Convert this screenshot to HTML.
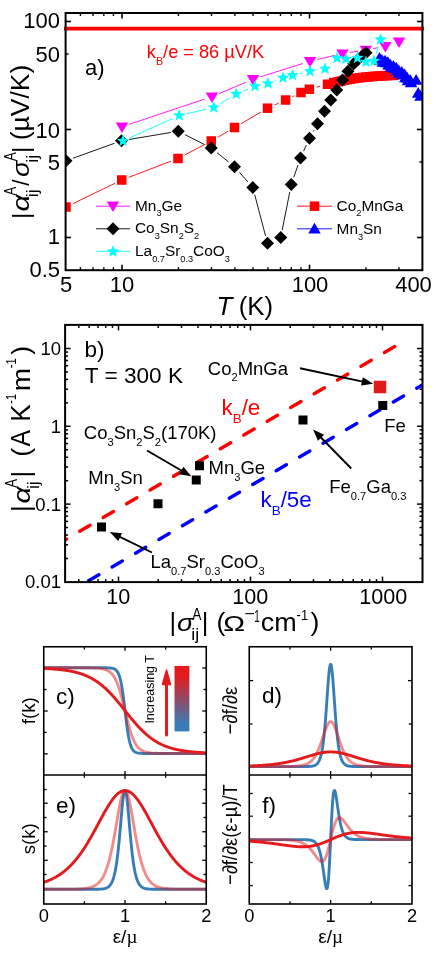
<!DOCTYPE html><html><head><meta charset="utf-8"><style>html,body{margin:0;padding:0;background:#fff}svg{display:block;will-change:transform}text{font-family:"Liberation Sans",sans-serif}</style></head><body>
<svg width="436" height="953" viewBox="0 0 436 953">
<rect width="436" height="953" fill="#fff"/>
<clipPath id="ca"><rect x="65.6" y="13.0" width="356.79999999999995" height="257.2"/></clipPath>
<g clip-path="url(#ca)">
<line x1="72.75" y1="203.73" x2="115.00" y2="183.27" stroke="#ff0000" stroke-width="0.9" />
<line x1="128.76" y1="177.32" x2="170.99" y2="161.18" stroke="#ff0000" stroke-width="0.9" />
<line x1="184.64" y1="155.01" x2="204.61" y2="144.49" stroke="#ff0000" stroke-width="0.9" />
<line x1="217.74" y1="137.23" x2="228.01" y2="131.27" stroke="#ff0000" stroke-width="0.9" />
<line x1="240.97" y1="123.71" x2="261.03" y2="111.99" stroke="#ff0000" stroke-width="0.9" />
<line x1="274.33" y1="105.11" x2="278.77" y2="103.09" stroke="#ff0000" stroke-width="0.9" />
<line x1="292.34" y1="96.72" x2="294.26" y2="95.78" stroke="#ff0000" stroke-width="0.9" />
<line x1="316.63" y1="87.25" x2="320.27" y2="86.25" stroke="#ff0000" stroke-width="0.9" />
<rect x="61.25" y="202.25" width="9.5" height="9.5" fill="#ff0000"/>
<rect x="117.00" y="175.25" width="9.5" height="9.5" fill="#ff0000"/>
<rect x="173.25" y="153.75" width="9.5" height="9.5" fill="#ff0000"/>
<rect x="206.50" y="136.25" width="9.5" height="9.5" fill="#ff0000"/>
<rect x="229.75" y="122.75" width="9.5" height="9.5" fill="#ff0000"/>
<rect x="262.75" y="103.45" width="9.5" height="9.5" fill="#ff0000"/>
<rect x="280.85" y="95.25" width="9.5" height="9.5" fill="#ff0000"/>
<rect x="296.25" y="87.75" width="9.5" height="9.5" fill="#ff0000"/>
<rect x="304.65" y="84.50" width="9.5" height="9.5" fill="#ff0000"/>
<rect x="322.75" y="79.50" width="9.5" height="9.5" fill="#ff0000"/>
<rect x="329.05" y="77.75" width="9.5" height="9.5" fill="#ff0000"/>
<rect x="333.25" y="77.05" width="9.5" height="9.5" fill="#ff0000"/>
<rect x="336.35" y="76.26" width="9.5" height="9.5" fill="#ff0000"/>
<rect x="339.45" y="75.56" width="9.5" height="9.5" fill="#ff0000"/>
<rect x="342.55" y="74.93" width="9.5" height="9.5" fill="#ff0000"/>
<rect x="345.65" y="74.37" width="9.5" height="9.5" fill="#ff0000"/>
<rect x="348.75" y="73.86" width="9.5" height="9.5" fill="#ff0000"/>
<rect x="351.85" y="73.41" width="9.5" height="9.5" fill="#ff0000"/>
<rect x="354.95" y="73.01" width="9.5" height="9.5" fill="#ff0000"/>
<rect x="358.05" y="72.64" width="9.5" height="9.5" fill="#ff0000"/>
<rect x="361.15" y="72.32" width="9.5" height="9.5" fill="#ff0000"/>
<rect x="364.25" y="72.03" width="9.5" height="9.5" fill="#ff0000"/>
<rect x="367.35" y="71.77" width="9.5" height="9.5" fill="#ff0000"/>
<rect x="370.45" y="71.54" width="9.5" height="9.5" fill="#ff0000"/>
<rect x="373.55" y="71.33" width="9.5" height="9.5" fill="#ff0000"/>
<rect x="376.65" y="71.14" width="9.5" height="9.5" fill="#ff0000"/>
<rect x="379.75" y="70.98" width="9.5" height="9.5" fill="#ff0000"/>
<rect x="382.85" y="70.83" width="9.5" height="9.5" fill="#ff0000"/>
<rect x="385.95" y="70.69" width="9.5" height="9.5" fill="#ff0000"/>
<rect x="389.05" y="70.57" width="9.5" height="9.5" fill="#ff0000"/>
<path d="M373.20,62.72L385.70,62.72L379.45,51.92Z" fill="#0000ff"/>
<path d="M373.80,65.01L386.30,65.01L380.05,54.21Z" fill="#0000ff"/>
<path d="M375.70,64.70L388.20,64.70L381.95,53.90Z" fill="#0000ff"/>
<path d="M376.45,66.69L388.95,66.69L382.70,55.89Z" fill="#0000ff"/>
<path d="M378.75,65.58L391.25,65.58L385.00,54.78Z" fill="#0000ff"/>
<path d="M379.65,67.27L392.15,67.27L385.90,56.47Z" fill="#0000ff"/>
<path d="M381.60,67.02L394.10,67.02L387.85,56.22Z" fill="#0000ff"/>
<path d="M382.20,69.54L394.70,69.54L388.45,58.74Z" fill="#0000ff"/>
<path d="M384.10,69.47L396.60,69.47L390.35,58.67Z" fill="#0000ff"/>
<path d="M384.85,71.70L397.35,71.70L391.10,60.90Z" fill="#0000ff"/>
<path d="M387.15,70.83L399.65,70.83L393.40,60.03Z" fill="#0000ff"/>
<path d="M388.05,72.75L400.55,72.75L394.30,61.95Z" fill="#0000ff"/>
<path d="M390.00,72.66L402.50,72.66L396.25,61.86Z" fill="#0000ff"/>
<path d="M390.60,75.28L403.10,75.28L396.85,64.48Z" fill="#0000ff"/>
<path d="M392.50,75.31L405.00,75.31L398.75,64.51Z" fill="#0000ff"/>
<path d="M393.25,77.64L405.75,77.64L399.50,66.84Z" fill="#0000ff"/>
<path d="M395.55,76.87L408.05,76.87L401.80,66.07Z" fill="#0000ff"/>
<path d="M396.45,79.15L408.95,79.15L402.70,68.35Z" fill="#0000ff"/>
<path d="M398.40,79.37L410.90,79.37L404.65,68.57Z" fill="#0000ff"/>
<path d="M399.00,82.29L411.50,82.29L405.25,71.49Z" fill="#0000ff"/>
<path d="M400.90,82.61L413.40,82.61L407.15,71.81Z" fill="#0000ff"/>
<path d="M401.65,85.23L414.15,85.23L407.90,74.43Z" fill="#0000ff"/>
<path d="M403.95,84.82L416.45,84.82L410.20,74.02Z" fill="#0000ff"/>
<path d="M404.85,87.22L417.35,87.22L411.10,76.42Z" fill="#0000ff"/>
<path d="M409.85,84.72L422.35,84.72L416.10,73.92Z" fill="#0000ff"/>
<path d="M411.95,97.82L424.45,97.82L418.20,87.02Z" fill="#0000ff"/>
<path d="M414.25,100.72L426.75,100.72L420.50,89.92Z" fill="#0000ff"/>
<line x1="129.11" y1="124.33" x2="204.79" y2="99.07" stroke="#ff00ff" stroke-width="0.9" />
<line x1="218.80" y1="93.76" x2="246.10" y2="82.14" stroke="#ff00ff" stroke-width="0.9" />
<line x1="260.15" y1="76.94" x2="302.85" y2="63.46" stroke="#ff00ff" stroke-width="0.9" />
<line x1="317.30" y1="59.49" x2="335.20" y2="55.31" stroke="#ff00ff" stroke-width="0.9" />
<line x1="349.91" y1="52.45" x2="358.39" y2="51.15" stroke="#ff00ff" stroke-width="0.9" />
<line x1="373.17" y1="48.60" x2="377.93" y2="47.70" stroke="#ff00ff" stroke-width="0.9" />
<path d="M115.75,122.50L128.25,122.50L122.00,133.00Z" fill="#ff00ff"/>
<path d="M205.65,92.50L218.15,92.50L211.90,103.00Z" fill="#ff00ff"/>
<path d="M246.75,75.00L259.25,75.00L253.00,85.50Z" fill="#ff00ff"/>
<path d="M303.75,57.00L316.25,57.00L310.00,67.50Z" fill="#ff00ff"/>
<path d="M336.25,49.40L348.75,49.40L342.50,59.90Z" fill="#ff00ff"/>
<path d="M359.55,45.80L372.05,45.80L365.80,56.30Z" fill="#ff00ff"/>
<path d="M379.05,42.10L391.55,42.10L385.30,52.60Z" fill="#ff00ff"/>
<path d="M392.75,37.50L405.25,37.50L399.00,48.00Z" fill="#ff00ff"/>
<line x1="73.06" y1="158.21" x2="114.44" y2="143.29" stroke="#000" stroke-width="0.9" />
<line x1="128.90" y1="139.51" x2="170.85" y2="132.49" stroke="#000" stroke-width="0.9" />
<line x1="184.94" y1="134.64" x2="204.56" y2="144.61" stroke="#000" stroke-width="0.9" />
<line x1="217.09" y1="152.71" x2="228.66" y2="162.04" stroke="#000" stroke-width="0.9" />
<line x1="239.46" y1="172.37" x2="247.84" y2="181.88" stroke="#000" stroke-width="0.9" />
<line x1="254.71" y1="194.75" x2="265.59" y2="236.00" stroke="#000" stroke-width="0.9" />
<line x1="282.21" y1="230.14" x2="289.79" y2="191.86" stroke="#000" stroke-width="0.9" />
<line x1="293.72" y1="177.42" x2="298.03" y2="165.08" stroke="#000" stroke-width="0.9" />
<line x1="303.60" y1="151.17" x2="306.40" y2="145.03" stroke="#000" stroke-width="0.9" />
<line x1="313.13" y1="131.64" x2="313.87" y2="130.31" stroke="#000" stroke-width="0.9" />
<path d="M66.00,154.25L72.50,160.75L66.00,167.25L59.50,160.75Z" fill="#000"/>
<path d="M121.50,134.25L128.00,140.75L121.50,147.25L115.00,140.75Z" fill="#000"/>
<path d="M178.25,124.75L184.75,131.25L178.25,137.75L171.75,131.25Z" fill="#000"/>
<path d="M211.25,141.50L217.75,148.00L211.25,154.50L204.75,148.00Z" fill="#000"/>
<path d="M234.50,160.25L241.00,166.75L234.50,173.25L228.00,166.75Z" fill="#000"/>
<path d="M252.80,181.00L259.30,187.50L252.80,194.00L246.30,187.50Z" fill="#000"/>
<path d="M267.50,236.75L274.00,243.25L267.50,249.75L261.00,243.25Z" fill="#000"/>
<path d="M280.75,231.00L287.25,237.50L280.75,244.00L274.25,237.50Z" fill="#000"/>
<path d="M291.25,178.00L297.75,184.50L291.25,191.00L284.75,184.50Z" fill="#000"/>
<path d="M300.50,151.50L307.00,158.00L300.50,164.50L294.00,158.00Z" fill="#000"/>
<path d="M309.50,131.70L316.00,138.20L309.50,144.70L303.00,138.20Z" fill="#000"/>
<path d="M317.50,117.25L324.00,123.75L317.50,130.25L311.00,123.75Z" fill="#000"/>
<path d="M324.50,104.75L331.00,111.25L324.50,117.75L318.00,111.25Z" fill="#000"/>
<path d="M330.75,93.50L337.25,100.00L330.75,106.50L324.25,100.00Z" fill="#000"/>
<path d="M336.75,83.50L343.25,90.00L336.75,96.50L330.25,90.00Z" fill="#000"/>
<path d="M342.50,73.50L349.00,80.00L342.50,86.50L336.00,80.00Z" fill="#000"/>
<path d="M348.00,64.75L354.50,71.25L348.00,77.75L341.50,71.25Z" fill="#000"/>
<path d="M353.75,57.25L360.25,63.75L353.75,70.25L347.25,63.75Z" fill="#000"/>
<path d="M358.00,53.10L364.50,59.60L358.00,66.10L351.50,59.60Z" fill="#000"/>
<path d="M362.00,49.50L368.50,56.00L362.00,62.50L355.50,56.00Z" fill="#000"/>
<path d="M366.00,46.20L372.50,52.70L366.00,59.20L359.50,52.70Z" fill="#000"/>
<line x1="129.83" y1="137.90" x2="172.42" y2="118.60" stroke="#00ffff" stroke-width="0.9" />
<line x1="186.56" y1="113.81" x2="206.44" y2="109.19" stroke="#00ffff" stroke-width="0.9" />
<line x1="220.18" y1="103.64" x2="229.82" y2="97.86" stroke="#00ffff" stroke-width="0.9" />
<line x1="243.18" y1="91.14" x2="248.07" y2="89.11" stroke="#00ffff" stroke-width="0.9" />
<line x1="275.01" y1="80.84" x2="275.99" y2="80.46" stroke="#00ffff" stroke-width="0.9" />
<line x1="299.82" y1="73.55" x2="302.68" y2="72.90" stroke="#00ffff" stroke-width="0.9" />
<line x1="330.59" y1="63.75" x2="331.41" y2="63.00" stroke="#00ffff" stroke-width="0.9" />
<line x1="376.18" y1="53.82" x2="378.32" y2="46.78" stroke="#00ffff" stroke-width="0.9" />
<polygon points="123.00,134.60 124.66,138.72 129.09,139.02 125.68,141.87 126.76,146.18 123.00,143.82 119.24,146.18 120.32,141.87 116.91,139.02 121.34,138.72" fill="#00ffff"/>
<polygon points="179.25,109.10 180.91,113.22 185.34,113.52 181.93,116.37 183.01,120.68 179.25,118.32 175.49,120.68 176.57,116.37 173.16,113.52 177.59,113.22" fill="#00ffff"/>
<polygon points="213.75,101.10 215.41,105.22 219.84,105.52 216.43,108.37 217.51,112.68 213.75,110.32 209.99,112.68 211.07,108.37 207.66,105.52 212.09,105.22" fill="#00ffff"/>
<polygon points="236.25,87.60 237.91,91.72 242.34,92.02 238.93,94.87 240.01,99.18 236.25,96.82 232.49,99.18 233.57,94.87 230.16,92.02 234.59,91.72" fill="#00ffff"/>
<polygon points="255.00,79.85 256.66,83.97 261.09,84.27 257.68,87.12 258.76,91.43 255.00,89.07 251.24,91.43 252.32,87.12 248.91,84.27 253.34,83.97" fill="#00ffff"/>
<polygon points="268.00,77.10 269.66,81.22 274.09,81.52 270.68,84.37 271.76,88.68 268.00,86.32 264.24,88.68 265.32,84.37 261.91,81.52 266.34,81.22" fill="#00ffff"/>
<polygon points="283.00,71.40 284.66,75.52 289.09,75.82 285.68,78.67 286.76,82.98 283.00,80.62 279.24,82.98 280.32,78.67 276.91,75.82 281.34,75.52" fill="#00ffff"/>
<polygon points="292.50,68.80 294.16,72.92 298.59,73.22 295.18,76.07 296.26,80.38 292.50,78.02 288.74,80.38 289.82,76.07 286.41,73.22 290.84,72.92" fill="#00ffff"/>
<polygon points="310.00,64.85 311.66,68.97 316.09,69.27 312.68,72.12 313.76,76.43 310.00,74.07 306.24,76.43 307.32,72.12 303.91,69.27 308.34,68.97" fill="#00ffff"/>
<polygon points="325.00,62.35 326.66,66.47 331.09,66.77 327.68,69.62 328.76,73.93 325.00,71.57 321.24,73.93 322.32,69.62 318.91,66.77 323.34,66.47" fill="#00ffff"/>
<polygon points="337.00,51.60 338.66,55.72 343.09,56.02 339.68,58.87 340.76,63.18 337.00,60.82 333.24,63.18 334.32,58.87 330.91,56.02 335.34,55.72" fill="#00ffff"/>
<polygon points="346.00,52.60 347.66,56.72 352.09,57.02 348.68,59.87 349.76,64.18 346.00,61.82 342.24,64.18 343.32,59.87 339.91,57.02 344.34,56.72" fill="#00ffff"/>
<polygon points="357.50,51.60 359.16,55.72 363.59,56.02 360.18,58.87 361.26,63.18 357.50,60.82 353.74,63.18 354.82,58.87 351.41,56.02 355.84,55.72" fill="#00ffff"/>
<polygon points="366.00,55.60 367.66,59.72 372.09,60.02 368.68,62.87 369.76,67.18 366.00,64.82 362.24,67.18 363.32,62.87 359.91,60.02 364.34,59.72" fill="#00ffff"/>
<polygon points="374.00,54.60 375.66,58.72 380.09,59.02 376.68,61.87 377.76,66.18 374.00,63.82 370.24,66.18 371.32,61.87 367.91,59.02 372.34,58.72" fill="#00ffff"/>
<polygon points="380.50,33.20 382.16,37.32 386.59,37.62 383.18,40.47 384.26,44.78 380.50,42.42 376.74,44.78 377.82,40.47 374.41,37.62 378.84,37.32" fill="#00ffff"/>
</g>
<line x1="64.00" y1="28.60" x2="424.00" y2="28.60" stroke="#ff0000" stroke-width="3.6" />
<text x="146.80" y="58.30" font-size="18.2" fill="#ff0000" text-anchor="start" >k<tspan font-size="10.8" dy="7">B</tspan><tspan dy="-7">/e = 86 µV/K</tspan></text>
<rect x="65.6" y="13.0" width="356.79999999999995" height="257.2" fill="none" stroke="#000" stroke-width="2"/>
<line x1="122.00" y1="270.20" x2="122.00" y2="264.70" stroke="#000" stroke-width="1.6" />
<line x1="122.00" y1="13.00" x2="122.00" y2="18.50" stroke="#000" stroke-width="1.6" />
<line x1="309.50" y1="270.20" x2="309.50" y2="264.70" stroke="#000" stroke-width="1.6" />
<line x1="309.50" y1="13.00" x2="309.50" y2="18.50" stroke="#000" stroke-width="1.6" />
<line x1="80.40" y1="270.20" x2="80.40" y2="267.20" stroke="#000" stroke-width="1.4" />
<line x1="80.40" y1="13.00" x2="80.40" y2="16.00" stroke="#000" stroke-width="1.4" />
<line x1="92.96" y1="270.20" x2="92.96" y2="267.20" stroke="#000" stroke-width="1.4" />
<line x1="92.96" y1="13.00" x2="92.96" y2="16.00" stroke="#000" stroke-width="1.4" />
<line x1="103.83" y1="270.20" x2="103.83" y2="267.20" stroke="#000" stroke-width="1.4" />
<line x1="103.83" y1="13.00" x2="103.83" y2="16.00" stroke="#000" stroke-width="1.4" />
<line x1="113.42" y1="270.20" x2="113.42" y2="267.20" stroke="#000" stroke-width="1.4" />
<line x1="113.42" y1="13.00" x2="113.42" y2="16.00" stroke="#000" stroke-width="1.4" />
<line x1="178.44" y1="270.20" x2="178.44" y2="267.20" stroke="#000" stroke-width="1.4" />
<line x1="178.44" y1="13.00" x2="178.44" y2="16.00" stroke="#000" stroke-width="1.4" />
<line x1="211.46" y1="270.20" x2="211.46" y2="267.20" stroke="#000" stroke-width="1.4" />
<line x1="211.46" y1="13.00" x2="211.46" y2="16.00" stroke="#000" stroke-width="1.4" />
<line x1="234.89" y1="270.20" x2="234.89" y2="267.20" stroke="#000" stroke-width="1.4" />
<line x1="234.89" y1="13.00" x2="234.89" y2="16.00" stroke="#000" stroke-width="1.4" />
<line x1="253.06" y1="270.20" x2="253.06" y2="267.20" stroke="#000" stroke-width="1.4" />
<line x1="253.06" y1="13.00" x2="253.06" y2="16.00" stroke="#000" stroke-width="1.4" />
<line x1="267.90" y1="270.20" x2="267.90" y2="267.20" stroke="#000" stroke-width="1.4" />
<line x1="267.90" y1="13.00" x2="267.90" y2="16.00" stroke="#000" stroke-width="1.4" />
<line x1="280.46" y1="270.20" x2="280.46" y2="267.20" stroke="#000" stroke-width="1.4" />
<line x1="280.46" y1="13.00" x2="280.46" y2="16.00" stroke="#000" stroke-width="1.4" />
<line x1="291.33" y1="270.20" x2="291.33" y2="267.20" stroke="#000" stroke-width="1.4" />
<line x1="291.33" y1="13.00" x2="291.33" y2="16.00" stroke="#000" stroke-width="1.4" />
<line x1="300.92" y1="270.20" x2="300.92" y2="267.20" stroke="#000" stroke-width="1.4" />
<line x1="300.92" y1="13.00" x2="300.92" y2="16.00" stroke="#000" stroke-width="1.4" />
<line x1="365.94" y1="270.20" x2="365.94" y2="267.20" stroke="#000" stroke-width="1.4" />
<line x1="365.94" y1="13.00" x2="365.94" y2="16.00" stroke="#000" stroke-width="1.4" />
<line x1="398.96" y1="270.20" x2="398.96" y2="267.20" stroke="#000" stroke-width="1.4" />
<line x1="398.96" y1="13.00" x2="398.96" y2="16.00" stroke="#000" stroke-width="1.4" />
<line x1="65.60" y1="237.50" x2="71.10" y2="237.50" stroke="#000" stroke-width="1.6" />
<line x1="422.40" y1="237.50" x2="416.90" y2="237.50" stroke="#000" stroke-width="1.6" />
<line x1="65.60" y1="129.50" x2="71.10" y2="129.50" stroke="#000" stroke-width="1.6" />
<line x1="422.40" y1="129.50" x2="416.90" y2="129.50" stroke="#000" stroke-width="1.6" />
<line x1="65.60" y1="21.50" x2="71.10" y2="21.50" stroke="#000" stroke-width="1.6" />
<line x1="422.40" y1="21.50" x2="416.90" y2="21.50" stroke="#000" stroke-width="1.6" />
<line x1="65.60" y1="162.01" x2="68.60" y2="162.01" stroke="#000" stroke-width="1.4" />
<line x1="422.40" y1="162.01" x2="419.40" y2="162.01" stroke="#000" stroke-width="1.4" />
<line x1="65.60" y1="54.01" x2="68.60" y2="54.01" stroke="#000" stroke-width="1.4" />
<line x1="422.40" y1="54.01" x2="419.40" y2="54.01" stroke="#000" stroke-width="1.4" />
<text x="60.00" y="28.19" font-size="22" fill="#000" text-anchor="end" >100</text>
<text x="60.00" y="61.79" font-size="22" fill="#000" text-anchor="end" >50</text>
<text x="60.00" y="137.79" font-size="22" fill="#000" text-anchor="end" >10</text>
<text x="60.00" y="170.39" font-size="22" fill="#000" text-anchor="end" >5</text>
<text x="60.00" y="244.39" font-size="22" fill="#000" text-anchor="end" >1</text>
<text x="60.00" y="277.19" font-size="22" fill="#000" text-anchor="end" >0.5</text>
<text x="66.00" y="292.30" font-size="22" fill="#000" text-anchor="middle" >5</text>
<text x="122.00" y="292.30" font-size="22" fill="#000" text-anchor="middle" >10</text>
<text x="310.00" y="292.30" font-size="22" fill="#000" text-anchor="middle" >100</text>
<text x="413.50" y="292.30" font-size="22" fill="#000" text-anchor="middle" >400</text>
<text x="85.10" y="74.60" font-size="22" fill="#000" text-anchor="start" >a)</text>
<text transform="translate(216.46,315.40) scale(0.994,1)" font-size="26.2" fill="#000" font-style="italic">T</text>
<text transform="translate(238.70,315.40) scale(0.985,1)" font-size="26.2" fill="#000">(K)</text>
<line x1="96.00" y1="206.20" x2="130.00" y2="206.20" stroke="#ff00ff" stroke-width="0.9" />
<path d="M106.75,201.40L119.25,201.40L113.00,211.90Z" fill="#ff00ff"/>
<line x1="96.00" y1="228.80" x2="130.00" y2="228.80" stroke="#000" stroke-width="0.9" />
<path d="M113.00,222.30L119.50,228.80L113.00,235.30L106.50,228.80Z" fill="#000"/>
<line x1="96.00" y1="251.30" x2="130.00" y2="251.30" stroke="#00ffff" stroke-width="0.9" />
<polygon points="113.00,245.20 114.66,249.32 119.09,249.62 115.68,252.47 116.76,256.78 113.00,254.42 109.24,256.78 110.32,252.47 106.91,249.62 111.34,249.32" fill="#00ffff"/>
<text x="135.00" y="210.60" font-size="15.4" fill="#000" text-anchor="start" ><tspan dy="0">Mn</tspan><tspan font-size="9.2" dy="5.5">3</tspan><tspan dy="-5.5">Ge</tspan></text>
<text x="135.00" y="233.40" font-size="15.4" fill="#000" text-anchor="start" ><tspan dy="0">Co</tspan><tspan font-size="9.2" dy="5.5">3</tspan><tspan dy="-5.5">Sn</tspan><tspan font-size="9.2" dy="5.5">2</tspan><tspan dy="-5.5">S</tspan><tspan font-size="9.2" dy="5.5">2</tspan></text>
<text x="135.00" y="256.00" font-size="15.4" fill="#000" text-anchor="start" ><tspan dy="0">La</tspan><tspan font-size="9.2" dy="5.5">0.7</tspan><tspan dy="-5.5">Sr</tspan><tspan font-size="9.2" dy="5.5">0.3</tspan><tspan dy="-5.5">CoO</tspan><tspan font-size="9.2" dy="5.5">3</tspan></text>
<line x1="297.00" y1="206.20" x2="332.00" y2="206.20" stroke="#ff0000" stroke-width="0.9" />
<rect x="309.75" y="201.45" width="9.5" height="9.5" fill="#ff0000"/>
<line x1="297.00" y1="228.80" x2="332.00" y2="228.80" stroke="#0000ff" stroke-width="0.9" />
<path d="M308.25,233.62L320.75,233.62L314.50,222.82Z" fill="#0000ff"/>
<text x="336.60" y="210.80" font-size="15.4" fill="#000" text-anchor="start" ><tspan dy="0">Co</tspan><tspan font-size="9.2" dy="5.5">2</tspan><tspan dy="-5.5">MnGa</tspan></text>
<text x="336.60" y="234.00" font-size="15.4" fill="#000" text-anchor="start" ><tspan dy="0">Mn</tspan><tspan font-size="9.2" dy="5.5">3</tspan><tspan dy="-5.5">Sn</tspan></text>
<g transform="translate(28.7,219.1) rotate(-90)">
<text transform="translate(-0.01,0.00) scale(1.000,1)" font-size="24.5" fill="#000">|</text>
<text transform="translate(7.68,0.00) scale(1.218,1)" font-size="24.5" fill="#000" font-style="italic">α</text>
<text transform="translate(23.57,-13.10) scale(0.819,1)" font-size="16.2" fill="#000">A</text>
<text transform="translate(21.87,9.40) scale(1.149,1)" font-size="16" fill="#000">ij</text>
<text transform="translate(33.40,0.00) scale(0.945,1)" font-size="24" fill="#000">/</text>
<text transform="translate(42.21,0.00) scale(1.093,1)" font-size="24.5" fill="#000" font-style="italic">σ</text>
<text transform="translate(58.07,-13.10) scale(0.819,1)" font-size="16.2" fill="#000">A</text>
<text transform="translate(56.27,9.40) scale(1.149,1)" font-size="16" fill="#000">ij</text>
<text transform="translate(66.09,0.00) scale(1.000,1)" font-size="24.5" fill="#000">|</text>
<text transform="translate(78.86,0.00) scale(1.007,1)" font-size="26.3" fill="#000">(µV/K)</text>
</g>
<clipPath id="cb"><rect x="65.1" y="324.9" width="357.4" height="257.20000000000005"/></clipPath>
<g clip-path="url(#cb)">
<line x1="56.30" y1="545.09" x2="66.60" y2="539.05" stroke="#ff0000" stroke-width="3.4" stroke-linecap="round"/>
<line x1="79.74" y1="531.34" x2="90.04" y2="525.30" stroke="#ff0000" stroke-width="3.4" stroke-linecap="round"/>
<line x1="103.18" y1="517.59" x2="113.48" y2="511.54" stroke="#ff0000" stroke-width="3.4" stroke-linecap="round"/>
<line x1="126.62" y1="503.84" x2="136.92" y2="497.79" stroke="#ff0000" stroke-width="3.4" stroke-linecap="round"/>
<line x1="150.06" y1="490.08" x2="160.36" y2="484.04" stroke="#ff0000" stroke-width="3.4" stroke-linecap="round"/>
<line x1="173.50" y1="476.33" x2="183.80" y2="470.29" stroke="#ff0000" stroke-width="3.4" stroke-linecap="round"/>
<line x1="196.94" y1="462.58" x2="207.24" y2="456.54" stroke="#ff0000" stroke-width="3.4" stroke-linecap="round"/>
<line x1="220.38" y1="448.83" x2="230.68" y2="442.78" stroke="#ff0000" stroke-width="3.4" stroke-linecap="round"/>
<line x1="243.82" y1="435.07" x2="254.12" y2="429.03" stroke="#ff0000" stroke-width="3.4" stroke-linecap="round"/>
<line x1="267.26" y1="421.32" x2="277.56" y2="415.28" stroke="#ff0000" stroke-width="3.4" stroke-linecap="round"/>
<line x1="290.70" y1="407.57" x2="301.00" y2="401.53" stroke="#ff0000" stroke-width="3.4" stroke-linecap="round"/>
<line x1="314.14" y1="393.82" x2="324.44" y2="387.77" stroke="#ff0000" stroke-width="3.4" stroke-linecap="round"/>
<line x1="337.58" y1="380.06" x2="347.88" y2="374.02" stroke="#ff0000" stroke-width="3.4" stroke-linecap="round"/>
<line x1="361.02" y1="366.31" x2="371.32" y2="360.27" stroke="#ff0000" stroke-width="3.4" stroke-linecap="round"/>
<line x1="384.46" y1="352.56" x2="394.76" y2="346.52" stroke="#ff0000" stroke-width="3.4" stroke-linecap="round"/>
<line x1="65.16" y1="594.49" x2="75.46" y2="588.45" stroke="#0000ff" stroke-width="3.4" stroke-linecap="round"/>
<line x1="88.60" y1="580.74" x2="98.90" y2="574.70" stroke="#0000ff" stroke-width="3.4" stroke-linecap="round"/>
<line x1="112.04" y1="566.99" x2="122.34" y2="560.95" stroke="#0000ff" stroke-width="3.4" stroke-linecap="round"/>
<line x1="135.48" y1="553.24" x2="145.78" y2="547.19" stroke="#0000ff" stroke-width="3.4" stroke-linecap="round"/>
<line x1="158.92" y1="539.48" x2="169.22" y2="533.44" stroke="#0000ff" stroke-width="3.4" stroke-linecap="round"/>
<line x1="182.36" y1="525.73" x2="192.66" y2="519.69" stroke="#0000ff" stroke-width="3.4" stroke-linecap="round"/>
<line x1="205.80" y1="511.98" x2="216.10" y2="505.94" stroke="#0000ff" stroke-width="3.4" stroke-linecap="round"/>
<line x1="229.24" y1="498.23" x2="239.54" y2="492.18" stroke="#0000ff" stroke-width="3.4" stroke-linecap="round"/>
<line x1="252.68" y1="484.48" x2="262.98" y2="478.43" stroke="#0000ff" stroke-width="3.4" stroke-linecap="round"/>
<line x1="276.12" y1="470.72" x2="286.42" y2="464.68" stroke="#0000ff" stroke-width="3.4" stroke-linecap="round"/>
<line x1="299.56" y1="456.97" x2="309.86" y2="450.93" stroke="#0000ff" stroke-width="3.4" stroke-linecap="round"/>
<line x1="323.00" y1="443.22" x2="333.30" y2="437.18" stroke="#0000ff" stroke-width="3.4" stroke-linecap="round"/>
<line x1="346.44" y1="429.47" x2="356.74" y2="423.42" stroke="#0000ff" stroke-width="3.4" stroke-linecap="round"/>
<line x1="369.88" y1="415.71" x2="380.18" y2="409.67" stroke="#0000ff" stroke-width="3.4" stroke-linecap="round"/>
<line x1="393.32" y1="401.96" x2="403.62" y2="395.92" stroke="#0000ff" stroke-width="3.4" stroke-linecap="round"/>
<line x1="416.76" y1="388.21" x2="427.06" y2="382.17" stroke="#0000ff" stroke-width="3.4" stroke-linecap="round"/>
</g>
<rect x="97.00" y="522.50" width="9" height="9" fill="#000"/>
<rect x="153.50" y="499.25" width="9" height="9" fill="#000"/>
<rect x="191.75" y="475.50" width="9" height="9" fill="#000"/>
<rect x="195.00" y="461.25" width="9" height="9" fill="#000"/>
<rect x="298.50" y="415.50" width="9" height="9" fill="#000"/>
<rect x="378.25" y="401.00" width="9" height="9" fill="#000"/>
<rect x="373.75" y="380.75" width="12.5" height="12.5" fill="#e31a1c"/>
<line x1="152.00" y1="552.50" x2="118.30" y2="536.15" stroke="#000" stroke-width="1.9" />
<path d="M109.75,532.00L121.97,533.15L118.22,540.89Z" fill="#000"/>
<line x1="147.00" y1="450.50" x2="183.04" y2="471.47" stroke="#000" stroke-width="1.9" />
<path d="M191.25,476.25L179.15,474.18L183.47,466.75Z" fill="#000"/>
<line x1="351.25" y1="468.50" x2="319.65" y2="436.28" stroke="#000" stroke-width="1.9" />
<path d="M313.00,429.50L324.12,434.70L317.98,440.72Z" fill="#000"/>
<line x1="300.00" y1="368.30" x2="363.91" y2="381.83" stroke="#000" stroke-width="1.9" />
<path d="M373.20,383.80L361.06,385.62L362.84,377.21Z" fill="#000"/>
<rect x="65.1" y="324.9" width="357.4" height="257.20000000000005" fill="none" stroke="#000" stroke-width="2"/>
<line x1="78.76" y1="582.10" x2="78.76" y2="579.10" stroke="#000" stroke-width="1.5" />
<line x1="78.76" y1="324.90" x2="78.76" y2="327.90" stroke="#000" stroke-width="1.5" />
<line x1="89.22" y1="582.10" x2="89.22" y2="579.10" stroke="#000" stroke-width="1.5" />
<line x1="89.22" y1="324.90" x2="89.22" y2="327.90" stroke="#000" stroke-width="1.5" />
<line x1="98.05" y1="582.10" x2="98.05" y2="579.10" stroke="#000" stroke-width="1.5" />
<line x1="98.05" y1="324.90" x2="98.05" y2="327.90" stroke="#000" stroke-width="1.5" />
<line x1="105.71" y1="582.10" x2="105.71" y2="579.10" stroke="#000" stroke-width="1.5" />
<line x1="105.71" y1="324.90" x2="105.71" y2="327.90" stroke="#000" stroke-width="1.5" />
<line x1="112.46" y1="582.10" x2="112.46" y2="579.10" stroke="#000" stroke-width="1.5" />
<line x1="112.46" y1="324.90" x2="112.46" y2="327.90" stroke="#000" stroke-width="1.5" />
<line x1="118.50" y1="582.10" x2="118.50" y2="576.60" stroke="#000" stroke-width="1.5" />
<line x1="118.50" y1="324.90" x2="118.50" y2="330.40" stroke="#000" stroke-width="1.5" />
<line x1="158.24" y1="582.10" x2="158.24" y2="579.10" stroke="#000" stroke-width="1.5" />
<line x1="158.24" y1="324.90" x2="158.24" y2="327.90" stroke="#000" stroke-width="1.5" />
<line x1="181.48" y1="582.10" x2="181.48" y2="579.10" stroke="#000" stroke-width="1.5" />
<line x1="181.48" y1="324.90" x2="181.48" y2="327.90" stroke="#000" stroke-width="1.5" />
<line x1="197.97" y1="582.10" x2="197.97" y2="579.10" stroke="#000" stroke-width="1.5" />
<line x1="197.97" y1="324.90" x2="197.97" y2="327.90" stroke="#000" stroke-width="1.5" />
<line x1="210.76" y1="582.10" x2="210.76" y2="579.10" stroke="#000" stroke-width="1.5" />
<line x1="210.76" y1="324.90" x2="210.76" y2="327.90" stroke="#000" stroke-width="1.5" />
<line x1="221.22" y1="582.10" x2="221.22" y2="579.10" stroke="#000" stroke-width="1.5" />
<line x1="221.22" y1="324.90" x2="221.22" y2="327.90" stroke="#000" stroke-width="1.5" />
<line x1="230.05" y1="582.10" x2="230.05" y2="579.10" stroke="#000" stroke-width="1.5" />
<line x1="230.05" y1="324.90" x2="230.05" y2="327.90" stroke="#000" stroke-width="1.5" />
<line x1="237.71" y1="582.10" x2="237.71" y2="579.10" stroke="#000" stroke-width="1.5" />
<line x1="237.71" y1="324.90" x2="237.71" y2="327.90" stroke="#000" stroke-width="1.5" />
<line x1="244.46" y1="582.10" x2="244.46" y2="579.10" stroke="#000" stroke-width="1.5" />
<line x1="244.46" y1="324.90" x2="244.46" y2="327.90" stroke="#000" stroke-width="1.5" />
<line x1="250.50" y1="582.10" x2="250.50" y2="576.60" stroke="#000" stroke-width="1.5" />
<line x1="250.50" y1="324.90" x2="250.50" y2="330.40" stroke="#000" stroke-width="1.5" />
<line x1="290.24" y1="582.10" x2="290.24" y2="579.10" stroke="#000" stroke-width="1.5" />
<line x1="290.24" y1="324.90" x2="290.24" y2="327.90" stroke="#000" stroke-width="1.5" />
<line x1="313.48" y1="582.10" x2="313.48" y2="579.10" stroke="#000" stroke-width="1.5" />
<line x1="313.48" y1="324.90" x2="313.48" y2="327.90" stroke="#000" stroke-width="1.5" />
<line x1="329.97" y1="582.10" x2="329.97" y2="579.10" stroke="#000" stroke-width="1.5" />
<line x1="329.97" y1="324.90" x2="329.97" y2="327.90" stroke="#000" stroke-width="1.5" />
<line x1="342.76" y1="582.10" x2="342.76" y2="579.10" stroke="#000" stroke-width="1.5" />
<line x1="342.76" y1="324.90" x2="342.76" y2="327.90" stroke="#000" stroke-width="1.5" />
<line x1="353.22" y1="582.10" x2="353.22" y2="579.10" stroke="#000" stroke-width="1.5" />
<line x1="353.22" y1="324.90" x2="353.22" y2="327.90" stroke="#000" stroke-width="1.5" />
<line x1="362.05" y1="582.10" x2="362.05" y2="579.10" stroke="#000" stroke-width="1.5" />
<line x1="362.05" y1="324.90" x2="362.05" y2="327.90" stroke="#000" stroke-width="1.5" />
<line x1="369.71" y1="582.10" x2="369.71" y2="579.10" stroke="#000" stroke-width="1.5" />
<line x1="369.71" y1="324.90" x2="369.71" y2="327.90" stroke="#000" stroke-width="1.5" />
<line x1="376.46" y1="582.10" x2="376.46" y2="579.10" stroke="#000" stroke-width="1.5" />
<line x1="376.46" y1="324.90" x2="376.46" y2="327.90" stroke="#000" stroke-width="1.5" />
<line x1="382.50" y1="582.10" x2="382.50" y2="576.60" stroke="#000" stroke-width="1.5" />
<line x1="382.50" y1="324.90" x2="382.50" y2="330.40" stroke="#000" stroke-width="1.5" />
<line x1="65.10" y1="558.48" x2="68.10" y2="558.48" stroke="#000" stroke-width="1.5" />
<line x1="422.50" y1="558.48" x2="419.50" y2="558.48" stroke="#000" stroke-width="1.5" />
<line x1="65.10" y1="544.78" x2="68.10" y2="544.78" stroke="#000" stroke-width="1.5" />
<line x1="422.50" y1="544.78" x2="419.50" y2="544.78" stroke="#000" stroke-width="1.5" />
<line x1="65.10" y1="535.06" x2="68.10" y2="535.06" stroke="#000" stroke-width="1.5" />
<line x1="422.50" y1="535.06" x2="419.50" y2="535.06" stroke="#000" stroke-width="1.5" />
<line x1="65.10" y1="527.52" x2="68.10" y2="527.52" stroke="#000" stroke-width="1.5" />
<line x1="422.50" y1="527.52" x2="419.50" y2="527.52" stroke="#000" stroke-width="1.5" />
<line x1="65.10" y1="521.36" x2="68.10" y2="521.36" stroke="#000" stroke-width="1.5" />
<line x1="422.50" y1="521.36" x2="419.50" y2="521.36" stroke="#000" stroke-width="1.5" />
<line x1="65.10" y1="516.15" x2="68.10" y2="516.15" stroke="#000" stroke-width="1.5" />
<line x1="422.50" y1="516.15" x2="419.50" y2="516.15" stroke="#000" stroke-width="1.5" />
<line x1="65.10" y1="511.64" x2="68.10" y2="511.64" stroke="#000" stroke-width="1.5" />
<line x1="422.50" y1="511.64" x2="419.50" y2="511.64" stroke="#000" stroke-width="1.5" />
<line x1="65.10" y1="507.66" x2="68.10" y2="507.66" stroke="#000" stroke-width="1.5" />
<line x1="422.50" y1="507.66" x2="419.50" y2="507.66" stroke="#000" stroke-width="1.5" />
<line x1="65.10" y1="504.10" x2="70.60" y2="504.10" stroke="#000" stroke-width="1.5" />
<line x1="422.50" y1="504.10" x2="417.00" y2="504.10" stroke="#000" stroke-width="1.5" />
<line x1="65.10" y1="480.68" x2="68.10" y2="480.68" stroke="#000" stroke-width="1.5" />
<line x1="422.50" y1="480.68" x2="419.50" y2="480.68" stroke="#000" stroke-width="1.5" />
<line x1="65.10" y1="466.98" x2="68.10" y2="466.98" stroke="#000" stroke-width="1.5" />
<line x1="422.50" y1="466.98" x2="419.50" y2="466.98" stroke="#000" stroke-width="1.5" />
<line x1="65.10" y1="457.26" x2="68.10" y2="457.26" stroke="#000" stroke-width="1.5" />
<line x1="422.50" y1="457.26" x2="419.50" y2="457.26" stroke="#000" stroke-width="1.5" />
<line x1="65.10" y1="449.72" x2="68.10" y2="449.72" stroke="#000" stroke-width="1.5" />
<line x1="422.50" y1="449.72" x2="419.50" y2="449.72" stroke="#000" stroke-width="1.5" />
<line x1="65.10" y1="443.56" x2="68.10" y2="443.56" stroke="#000" stroke-width="1.5" />
<line x1="422.50" y1="443.56" x2="419.50" y2="443.56" stroke="#000" stroke-width="1.5" />
<line x1="65.10" y1="438.35" x2="68.10" y2="438.35" stroke="#000" stroke-width="1.5" />
<line x1="422.50" y1="438.35" x2="419.50" y2="438.35" stroke="#000" stroke-width="1.5" />
<line x1="65.10" y1="433.84" x2="68.10" y2="433.84" stroke="#000" stroke-width="1.5" />
<line x1="422.50" y1="433.84" x2="419.50" y2="433.84" stroke="#000" stroke-width="1.5" />
<line x1="65.10" y1="429.86" x2="68.10" y2="429.86" stroke="#000" stroke-width="1.5" />
<line x1="422.50" y1="429.86" x2="419.50" y2="429.86" stroke="#000" stroke-width="1.5" />
<line x1="65.10" y1="426.30" x2="70.60" y2="426.30" stroke="#000" stroke-width="1.5" />
<line x1="422.50" y1="426.30" x2="417.00" y2="426.30" stroke="#000" stroke-width="1.5" />
<line x1="65.10" y1="402.88" x2="68.10" y2="402.88" stroke="#000" stroke-width="1.5" />
<line x1="422.50" y1="402.88" x2="419.50" y2="402.88" stroke="#000" stroke-width="1.5" />
<line x1="65.10" y1="389.18" x2="68.10" y2="389.18" stroke="#000" stroke-width="1.5" />
<line x1="422.50" y1="389.18" x2="419.50" y2="389.18" stroke="#000" stroke-width="1.5" />
<line x1="65.10" y1="379.46" x2="68.10" y2="379.46" stroke="#000" stroke-width="1.5" />
<line x1="422.50" y1="379.46" x2="419.50" y2="379.46" stroke="#000" stroke-width="1.5" />
<line x1="65.10" y1="371.92" x2="68.10" y2="371.92" stroke="#000" stroke-width="1.5" />
<line x1="422.50" y1="371.92" x2="419.50" y2="371.92" stroke="#000" stroke-width="1.5" />
<line x1="65.10" y1="365.76" x2="68.10" y2="365.76" stroke="#000" stroke-width="1.5" />
<line x1="422.50" y1="365.76" x2="419.50" y2="365.76" stroke="#000" stroke-width="1.5" />
<line x1="65.10" y1="360.55" x2="68.10" y2="360.55" stroke="#000" stroke-width="1.5" />
<line x1="422.50" y1="360.55" x2="419.50" y2="360.55" stroke="#000" stroke-width="1.5" />
<line x1="65.10" y1="356.04" x2="68.10" y2="356.04" stroke="#000" stroke-width="1.5" />
<line x1="422.50" y1="356.04" x2="419.50" y2="356.04" stroke="#000" stroke-width="1.5" />
<line x1="65.10" y1="352.06" x2="68.10" y2="352.06" stroke="#000" stroke-width="1.5" />
<line x1="422.50" y1="352.06" x2="419.50" y2="352.06" stroke="#000" stroke-width="1.5" />
<line x1="65.10" y1="348.50" x2="70.60" y2="348.50" stroke="#000" stroke-width="1.5" />
<line x1="422.50" y1="348.50" x2="417.00" y2="348.50" stroke="#000" stroke-width="1.5" />
<text x="61.00" y="354.98" font-size="18.5" fill="#000" text-anchor="end" >10</text>
<text x="61.00" y="432.78" font-size="18.5" fill="#000" text-anchor="end" >1</text>
<text x="61.00" y="510.88" font-size="18.5" fill="#000" text-anchor="end" >0.1</text>
<text x="61.00" y="588.08" font-size="18.5" fill="#000" text-anchor="end" >0.01</text>
<text x="118.30" y="604.40" font-size="21.6" fill="#000" text-anchor="middle" >10</text>
<text x="250.30" y="604.40" font-size="21.6" fill="#000" text-anchor="middle" >100</text>
<text x="383.20" y="604.40" font-size="21.6" fill="#000" text-anchor="middle" >1000</text>
<text x="84.50" y="357.00" font-size="22.5" fill="#000" text-anchor="start" >b)</text>
<text x="84.80" y="382.60" font-size="22.6" fill="#000" text-anchor="start" >T = 300 K</text>
<text x="207.85" y="374.50" font-size="18.5" fill="#000" text-anchor="start" ><tspan dy="0">Co</tspan><tspan font-size="11.1" dy="6.7">2</tspan><tspan dy="-6.7">MnGa</tspan></text>
<text x="83.85" y="438.80" font-size="18.5" fill="#000" text-anchor="start" ><tspan dy="0">Co</tspan><tspan font-size="11.1" dy="6.7">3</tspan><tspan dy="-6.7">Sn</tspan><tspan font-size="11.1" dy="6.7">2</tspan><tspan dy="-6.7">S</tspan><tspan font-size="11.1" dy="6.7">2</tspan><tspan dy="-6.7">(170K)</tspan></text>
<text x="88.35" y="484.20" font-size="18.5" fill="#000" text-anchor="start" ><tspan dy="0">Mn</tspan><tspan font-size="11.1" dy="6.7">3</tspan><tspan dy="-6.7">Sn</tspan></text>
<text x="208.60" y="473.80" font-size="18.5" fill="#000" text-anchor="start" ><tspan dy="0">Mn</tspan><tspan font-size="11.1" dy="6.7">3</tspan><tspan dy="-6.7">Ge</tspan></text>
<text x="384.25" y="431.80" font-size="18.5" fill="#000" text-anchor="start" >Fe</text>
<text x="329.25" y="493.30" font-size="18.5" fill="#000" text-anchor="start" ><tspan dy="0">Fe</tspan><tspan font-size="11.1" dy="6.7">0.7</tspan><tspan dy="-6.7">Ga</tspan><tspan font-size="11.1" dy="6.7">0.3</tspan></text>
<text x="150.50" y="568.00" font-size="18.5" fill="#000" text-anchor="start" ><tspan dy="0">La</tspan><tspan font-size="11.1" dy="6.7">0.7</tspan><tspan dy="-6.7">Sr</tspan><tspan font-size="11.1" dy="6.7">0.3</tspan><tspan dy="-6.7">CoO</tspan><tspan font-size="11.1" dy="6.7">3</tspan></text>
<text x="221.50" y="414.50" font-size="22.4" fill="#ff0000" text-anchor="start" ><tspan dy="0">k</tspan><tspan font-size="13.4" dy="8.1">B</tspan><tspan dy="-8.1">/e</tspan></text>
<text x="260.50" y="507.00" font-size="22.4" fill="#0000ff" text-anchor="start" ><tspan dy="0">k</tspan><tspan font-size="13.4" dy="8.1">B</tspan><tspan dy="-8.1">/5e</tspan></text>
<g transform="translate(30.0,511.9) rotate(-90)">
<text transform="translate(-0.01,0.00) scale(1.000,1)" font-size="25.7" fill="#000">|</text>
<text transform="translate(8.39,0.00) scale(1.211,1)" font-size="24.5" fill="#000" font-style="italic">α</text>
<text transform="translate(24.27,-12.80) scale(0.819,1)" font-size="16.2" fill="#000">A</text>
<text transform="translate(23.18,9.20) scale(1.048,1)" font-size="16" fill="#000">ij</text>
<text transform="translate(34.39,0.00) scale(1.000,1)" font-size="25.7" fill="#000">|</text>
<text transform="translate(55.16,0.20) scale(1.000,1)" font-size="26.5" fill="#000">(</text>
<text transform="translate(65.35,0.20) scale(0.923,1)" font-size="26.8" fill="#000">A</text>
<text transform="translate(90.16,0.20) scale(0.976,1)" font-size="26.8" fill="#000">K</text>
<text transform="translate(108.22,-13.60) scale(0.706,1)" font-size="15.3" fill="#000">-1</text>
<text transform="translate(120.53,0.20) scale(1.081,1)" font-size="26" fill="#000">m</text>
<text transform="translate(143.60,-13.60) scale(0.739,1)" font-size="15.3" fill="#000">-1</text>
<text transform="translate(157.04,0.20) scale(1.000,1)" font-size="26.5" fill="#000">)</text>
</g>
<text transform="translate(169.39,631.00) scale(1.000,1)" font-size="25.5" fill="#000">|</text>
<text transform="translate(176.88,631.00) scale(1.127,1)" font-size="24.5" fill="#000" font-style="italic">σ</text>
<text transform="translate(192.17,620.40) scale(0.880,1)" font-size="15.6" fill="#000">A</text>
<text transform="translate(191.31,640.40) scale(1.109,1)" font-size="16" fill="#000">ij</text>
<text transform="translate(201.69,631.00) scale(1.000,1)" font-size="25.5" fill="#000">|</text>
<text transform="translate(216.56,631.00) scale(1.000,1)" font-size="26.5" fill="#000">(</text>
<text transform="translate(223.36,631.00) scale(1.369,1)" font-size="21.3" fill="#000">Ω</text>
<text transform="translate(244.22,619.00) scale(1.155,1)" font-size="15.5" fill="#000">−</text>
<text transform="translate(254.24,622.20) scale(0.623,1)" font-size="16" fill="#000">1</text>
<text transform="translate(260.86,631.00) scale(1.017,1)" font-size="26.5" fill="#000">cm</text>
<text transform="translate(296.62,619.90) scale(0.846,1)" font-size="15.3" fill="#000">-1</text>
<text transform="translate(310.44,631.00) scale(1.000,1)" font-size="26.5" fill="#000">)</text>
<line x1="84.38" y1="775.00" x2="84.38" y2="772.20" stroke="#000" stroke-width="1.3" />
<line x1="84.38" y1="904.00" x2="84.38" y2="901.20" stroke="#000" stroke-width="1.3" />
<line x1="84.38" y1="646.75" x2="84.38" y2="649.55" stroke="#000" stroke-width="1.3" />
<line x1="84.38" y1="775.00" x2="84.38" y2="777.80" stroke="#000" stroke-width="1.3" />
<line x1="125.00" y1="775.00" x2="125.00" y2="771.00" stroke="#000" stroke-width="1.3" />
<line x1="125.00" y1="904.00" x2="125.00" y2="900.00" stroke="#000" stroke-width="1.3" />
<line x1="125.00" y1="646.75" x2="125.00" y2="650.75" stroke="#000" stroke-width="1.3" />
<line x1="125.00" y1="775.00" x2="125.00" y2="779.00" stroke="#000" stroke-width="1.3" />
<line x1="165.62" y1="775.00" x2="165.62" y2="772.20" stroke="#000" stroke-width="1.3" />
<line x1="165.62" y1="904.00" x2="165.62" y2="901.20" stroke="#000" stroke-width="1.3" />
<line x1="165.62" y1="646.75" x2="165.62" y2="649.55" stroke="#000" stroke-width="1.3" />
<line x1="165.62" y1="775.00" x2="165.62" y2="777.80" stroke="#000" stroke-width="1.3" />
<line x1="289.94" y1="775.00" x2="289.94" y2="772.20" stroke="#000" stroke-width="1.3" />
<line x1="289.94" y1="904.00" x2="289.94" y2="901.20" stroke="#000" stroke-width="1.3" />
<line x1="289.94" y1="646.75" x2="289.94" y2="649.55" stroke="#000" stroke-width="1.3" />
<line x1="289.94" y1="775.00" x2="289.94" y2="777.80" stroke="#000" stroke-width="1.3" />
<line x1="330.62" y1="775.00" x2="330.62" y2="771.00" stroke="#000" stroke-width="1.3" />
<line x1="330.62" y1="904.00" x2="330.62" y2="900.00" stroke="#000" stroke-width="1.3" />
<line x1="330.62" y1="646.75" x2="330.62" y2="650.75" stroke="#000" stroke-width="1.3" />
<line x1="330.62" y1="775.00" x2="330.62" y2="779.00" stroke="#000" stroke-width="1.3" />
<line x1="371.31" y1="775.00" x2="371.31" y2="772.20" stroke="#000" stroke-width="1.3" />
<line x1="371.31" y1="904.00" x2="371.31" y2="901.20" stroke="#000" stroke-width="1.3" />
<line x1="371.31" y1="646.75" x2="371.31" y2="649.55" stroke="#000" stroke-width="1.3" />
<line x1="371.31" y1="775.00" x2="371.31" y2="777.80" stroke="#000" stroke-width="1.3" />
<line x1="43.75" y1="668.00" x2="47.75" y2="668.00" stroke="#000" stroke-width="1.3" />
<line x1="206.25" y1="668.00" x2="202.25" y2="668.00" stroke="#000" stroke-width="1.3" />
<line x1="43.75" y1="689.50" x2="46.55" y2="689.50" stroke="#000" stroke-width="1.3" />
<line x1="206.25" y1="689.50" x2="203.45" y2="689.50" stroke="#000" stroke-width="1.3" />
<line x1="43.75" y1="711.00" x2="47.75" y2="711.00" stroke="#000" stroke-width="1.3" />
<line x1="206.25" y1="711.00" x2="202.25" y2="711.00" stroke="#000" stroke-width="1.3" />
<line x1="43.75" y1="732.40" x2="46.55" y2="732.40" stroke="#000" stroke-width="1.3" />
<line x1="206.25" y1="732.40" x2="203.45" y2="732.40" stroke="#000" stroke-width="1.3" />
<line x1="43.75" y1="753.90" x2="47.75" y2="753.90" stroke="#000" stroke-width="1.3" />
<line x1="206.25" y1="753.90" x2="202.25" y2="753.90" stroke="#000" stroke-width="1.3" />
<line x1="43.75" y1="789.50" x2="46.55" y2="789.50" stroke="#000" stroke-width="1.3" />
<line x1="206.25" y1="789.50" x2="203.45" y2="789.50" stroke="#000" stroke-width="1.3" />
<line x1="43.75" y1="803.25" x2="47.75" y2="803.25" stroke="#000" stroke-width="1.3" />
<line x1="206.25" y1="803.25" x2="202.25" y2="803.25" stroke="#000" stroke-width="1.3" />
<line x1="43.75" y1="817.50" x2="46.55" y2="817.50" stroke="#000" stroke-width="1.3" />
<line x1="206.25" y1="817.50" x2="203.45" y2="817.50" stroke="#000" stroke-width="1.3" />
<line x1="43.75" y1="831.75" x2="47.75" y2="831.75" stroke="#000" stroke-width="1.3" />
<line x1="206.25" y1="831.75" x2="202.25" y2="831.75" stroke="#000" stroke-width="1.3" />
<line x1="43.75" y1="846.10" x2="46.55" y2="846.10" stroke="#000" stroke-width="1.3" />
<line x1="206.25" y1="846.10" x2="203.45" y2="846.10" stroke="#000" stroke-width="1.3" />
<line x1="43.75" y1="860.30" x2="47.75" y2="860.30" stroke="#000" stroke-width="1.3" />
<line x1="206.25" y1="860.30" x2="202.25" y2="860.30" stroke="#000" stroke-width="1.3" />
<line x1="43.75" y1="874.50" x2="46.55" y2="874.50" stroke="#000" stroke-width="1.3" />
<line x1="206.25" y1="874.50" x2="203.45" y2="874.50" stroke="#000" stroke-width="1.3" />
<line x1="43.75" y1="888.75" x2="47.75" y2="888.75" stroke="#000" stroke-width="1.3" />
<line x1="206.25" y1="888.75" x2="202.25" y2="888.75" stroke="#000" stroke-width="1.3" />
<line x1="249.25" y1="680.60" x2="253.25" y2="680.60" stroke="#000" stroke-width="1.3" />
<line x1="412.00" y1="680.60" x2="408.00" y2="680.60" stroke="#000" stroke-width="1.3" />
<line x1="249.25" y1="724.00" x2="252.45" y2="724.00" stroke="#000" stroke-width="1.3" />
<line x1="412.00" y1="724.00" x2="408.80" y2="724.00" stroke="#000" stroke-width="1.3" />
<line x1="249.25" y1="766.40" x2="253.25" y2="766.40" stroke="#000" stroke-width="1.3" />
<line x1="412.00" y1="766.40" x2="408.00" y2="766.40" stroke="#000" stroke-width="1.3" />
<line x1="249.25" y1="793.50" x2="252.75" y2="793.50" stroke="#000" stroke-width="1.3" />
<line x1="412.00" y1="793.50" x2="408.50" y2="793.50" stroke="#000" stroke-width="1.3" />
<line x1="249.25" y1="816.20" x2="252.75" y2="816.20" stroke="#000" stroke-width="1.3" />
<line x1="412.00" y1="816.20" x2="408.50" y2="816.20" stroke="#000" stroke-width="1.3" />
<line x1="249.25" y1="839.30" x2="252.75" y2="839.30" stroke="#000" stroke-width="1.3" />
<line x1="412.00" y1="839.30" x2="408.50" y2="839.30" stroke="#000" stroke-width="1.3" />
<line x1="249.25" y1="862.50" x2="252.75" y2="862.50" stroke="#000" stroke-width="1.3" />
<line x1="412.00" y1="862.50" x2="408.50" y2="862.50" stroke="#000" stroke-width="1.3" />
<line x1="249.25" y1="885.60" x2="252.75" y2="885.60" stroke="#000" stroke-width="1.3" />
<line x1="412.00" y1="885.60" x2="408.50" y2="885.60" stroke="#000" stroke-width="1.3" />
<clipPath id="cc"><rect x="43.75" y="646.75" width="162.5" height="128.25"/></clipPath><g clip-path="url(#cc)">
<polyline points="43.75,667.75 44.26,667.75 44.77,667.75 45.27,667.75 45.78,667.75 46.29,667.75 46.80,667.75 47.30,667.75 47.81,667.75 48.32,667.75 48.83,667.75 49.34,667.75 49.84,667.75 50.35,667.75 50.86,667.75 51.37,667.75 51.88,667.75 52.38,667.75 52.89,667.75 53.40,667.75 53.91,667.75 54.41,667.75 54.92,667.75 55.43,667.75 55.94,667.75 56.45,667.75 56.95,667.75 57.46,667.75 57.97,667.75 58.48,667.75 58.98,667.75 59.49,667.75 60.00,667.75 60.51,667.75 61.02,667.75 61.52,667.75 62.03,667.75 62.54,667.75 63.05,667.75 63.55,667.75 64.06,667.75 64.57,667.75 65.08,667.75 65.59,667.75 66.09,667.75 66.60,667.75 67.11,667.75 67.62,667.75 68.12,667.75 68.63,667.75 69.14,667.75 69.65,667.75 70.16,667.75 70.66,667.75 71.17,667.75 71.68,667.75 72.19,667.75 72.70,667.75 73.20,667.75 73.71,667.75 74.22,667.75 74.73,667.75 75.23,667.75 75.74,667.75 76.25,667.75 76.76,667.75 77.27,667.75 77.77,667.75 78.28,667.75 78.79,667.75 79.30,667.75 79.80,667.75 80.31,667.75 80.82,667.75 81.33,667.75 81.84,667.75 82.34,667.75 82.85,667.75 83.36,667.75 83.87,667.75 84.38,667.75 84.88,667.75 85.39,667.75 85.90,667.75 86.41,667.75 86.91,667.75 87.42,667.75 87.93,667.75 88.44,667.75 88.95,667.75 89.45,667.75 89.96,667.75 90.47,667.75 90.98,667.75 91.48,667.75 91.99,667.75 92.50,667.75 93.01,667.75 93.52,667.75 94.02,667.75 94.53,667.75 95.04,667.75 95.55,667.75 96.05,667.75 96.56,667.75 97.07,667.75 97.58,667.75 98.09,667.75 98.59,667.75 99.10,667.75 99.61,667.75 100.12,667.75 100.62,667.76 101.13,667.76 101.64,667.76 102.15,667.76 102.66,667.76 103.16,667.76 103.67,667.77 104.18,667.77 104.69,667.78 105.20,667.78 105.70,667.79 106.21,667.80 106.72,667.81 107.23,667.82 107.73,667.84 108.24,667.86 108.75,667.89 109.26,667.92 109.77,667.95 110.27,668.00 110.78,668.05 111.29,668.12 111.80,668.20 112.30,668.30 112.81,668.42 113.32,668.57 113.83,668.75 114.34,668.98 114.84,669.24 115.35,669.57 115.86,669.97 116.37,670.45 116.88,671.03 117.38,671.72 117.89,672.56 118.40,673.56 118.91,674.76 119.41,676.17 119.92,677.83 120.43,679.76 120.94,682.00 121.45,684.56 121.95,687.45 122.46,690.68 122.97,694.22 123.48,698.04 123.98,702.10 124.49,706.32 125.00,710.62 125.51,714.93 126.02,719.15 126.52,723.21 127.03,727.03 127.54,730.57 128.05,733.80 128.55,736.69 129.06,739.25 129.57,741.49 130.08,743.42 130.59,745.08 131.09,746.49 131.60,747.69 132.11,748.69 132.62,749.53 133.12,750.22 133.63,750.80 134.14,751.28 134.65,751.68 135.16,752.01 135.66,752.27 136.17,752.50 136.68,752.68 137.19,752.83 137.70,752.95 138.20,753.05 138.71,753.13 139.22,753.20 139.73,753.25 140.23,753.30 140.74,753.33 141.25,753.36 141.76,753.39 142.27,753.41 142.77,753.43 143.28,753.44 143.79,753.45 144.30,753.46 144.80,753.47 145.31,753.47 145.82,753.48 146.33,753.48 146.84,753.49 147.34,753.49 147.85,753.49 148.36,753.49 148.87,753.49 149.38,753.49 149.88,753.50 150.39,753.50 150.90,753.50 151.41,753.50 151.91,753.50 152.42,753.50 152.93,753.50 153.44,753.50 153.95,753.50 154.45,753.50 154.96,753.50 155.47,753.50 155.98,753.50 156.48,753.50 156.99,753.50 157.50,753.50 158.01,753.50 158.52,753.50 159.02,753.50 159.53,753.50 160.04,753.50 160.55,753.50 161.05,753.50 161.56,753.50 162.07,753.50 162.58,753.50 163.09,753.50 163.59,753.50 164.10,753.50 164.61,753.50 165.12,753.50 165.62,753.50 166.13,753.50 166.64,753.50 167.15,753.50 167.66,753.50 168.16,753.50 168.67,753.50 169.18,753.50 169.69,753.50 170.20,753.50 170.70,753.50 171.21,753.50 171.72,753.50 172.23,753.50 172.73,753.50 173.24,753.50 173.75,753.50 174.26,753.50 174.77,753.50 175.27,753.50 175.78,753.50 176.29,753.50 176.80,753.50 177.30,753.50 177.81,753.50 178.32,753.50 178.83,753.50 179.34,753.50 179.84,753.50 180.35,753.50 180.86,753.50 181.37,753.50 181.88,753.50 182.38,753.50 182.89,753.50 183.40,753.50 183.91,753.50 184.41,753.50 184.92,753.50 185.43,753.50 185.94,753.50 186.45,753.50 186.95,753.50 187.46,753.50 187.97,753.50 188.48,753.50 188.98,753.50 189.49,753.50 190.00,753.50 190.51,753.50 191.02,753.50 191.52,753.50 192.03,753.50 192.54,753.50 193.05,753.50 193.55,753.50 194.06,753.50 194.57,753.50 195.08,753.50 195.59,753.50 196.09,753.50 196.60,753.50 197.11,753.50 197.62,753.50 198.12,753.50 198.63,753.50 199.14,753.50 199.65,753.50 200.16,753.50 200.66,753.50 201.17,753.50 201.68,753.50 202.19,753.50 202.70,753.50 203.20,753.50 203.71,753.50 204.22,753.50 204.73,753.50 205.23,753.50 205.74,753.50 206.25,753.50" fill="none" stroke="#377eb8" stroke-width="2.9" stroke-linejoin="round"/>
<polyline points="43.75,667.75 44.26,667.75 44.77,667.75 45.27,667.75 45.78,667.75 46.29,667.75 46.80,667.75 47.30,667.75 47.81,667.75 48.32,667.75 48.83,667.75 49.34,667.75 49.84,667.75 50.35,667.75 50.86,667.75 51.37,667.75 51.88,667.75 52.38,667.75 52.89,667.75 53.40,667.75 53.91,667.75 54.41,667.75 54.92,667.75 55.43,667.75 55.94,667.75 56.45,667.75 56.95,667.75 57.46,667.75 57.97,667.75 58.48,667.75 58.98,667.75 59.49,667.75 60.00,667.75 60.51,667.75 61.02,667.75 61.52,667.75 62.03,667.75 62.54,667.75 63.05,667.75 63.55,667.75 64.06,667.75 64.57,667.75 65.08,667.75 65.59,667.75 66.09,667.75 66.60,667.75 67.11,667.75 67.62,667.75 68.12,667.75 68.63,667.75 69.14,667.75 69.65,667.75 70.16,667.75 70.66,667.75 71.17,667.75 71.68,667.75 72.19,667.75 72.70,667.75 73.20,667.75 73.71,667.75 74.22,667.75 74.73,667.75 75.23,667.76 75.74,667.76 76.25,667.76 76.76,667.76 77.27,667.76 77.77,667.76 78.28,667.76 78.79,667.76 79.30,667.76 79.80,667.76 80.31,667.76 80.82,667.77 81.33,667.77 81.84,667.77 82.34,667.77 82.85,667.77 83.36,667.78 83.87,667.78 84.38,667.78 84.88,667.78 85.39,667.79 85.90,667.79 86.41,667.80 86.91,667.80 87.42,667.81 87.93,667.81 88.44,667.82 88.95,667.82 89.45,667.83 89.96,667.84 90.47,667.85 90.98,667.86 91.48,667.87 91.99,667.89 92.50,667.90 93.01,667.92 93.52,667.93 94.02,667.95 94.53,667.97 95.04,668.00 95.55,668.02 96.05,668.05 96.56,668.08 97.07,668.11 97.58,668.15 98.09,668.19 98.59,668.24 99.10,668.29 99.61,668.35 100.12,668.41 100.62,668.48 101.13,668.55 101.64,668.63 102.15,668.73 102.66,668.83 103.16,668.94 103.67,669.06 104.18,669.19 104.69,669.34 105.20,669.50 105.70,669.68 106.21,669.88 106.72,670.09 107.23,670.33 107.73,670.59 108.24,670.88 108.75,671.19 109.26,671.53 109.77,671.91 110.27,672.32 110.78,672.77 111.29,673.26 111.80,673.79 112.30,674.38 112.81,675.01 113.32,675.69 113.83,676.44 114.34,677.24 114.84,678.12 115.35,679.05 115.86,680.06 116.37,681.15 116.88,682.31 117.38,683.55 117.89,684.86 118.40,686.26 118.91,687.74 119.41,689.31 119.92,690.95 120.43,692.66 120.94,694.45 121.45,696.31 121.95,698.23 122.46,700.20 122.97,702.23 123.48,704.29 123.98,706.39 124.49,708.50 125.00,710.62 125.51,712.75 126.02,714.86 126.52,716.96 127.03,719.02 127.54,721.05 128.05,723.02 128.55,724.94 129.06,726.80 129.57,728.59 130.08,730.30 130.59,731.94 131.09,733.51 131.60,734.99 132.11,736.39 132.62,737.70 133.12,738.94 133.63,740.10 134.14,741.19 134.65,742.20 135.16,743.13 135.66,744.01 136.17,744.81 136.68,745.56 137.19,746.24 137.70,746.87 138.20,747.46 138.71,747.99 139.22,748.48 139.73,748.93 140.23,749.34 140.74,749.72 141.25,750.06 141.76,750.37 142.27,750.66 142.77,750.92 143.28,751.16 143.79,751.37 144.30,751.57 144.80,751.75 145.31,751.91 145.82,752.06 146.33,752.19 146.84,752.31 147.34,752.42 147.85,752.52 148.36,752.62 148.87,752.70 149.38,752.77 149.88,752.84 150.39,752.90 150.90,752.96 151.41,753.01 151.91,753.06 152.42,753.10 152.93,753.14 153.44,753.17 153.95,753.20 154.45,753.23 154.96,753.25 155.47,753.28 155.98,753.30 156.48,753.32 156.99,753.33 157.50,753.35 158.01,753.36 158.52,753.38 159.02,753.39 159.53,753.40 160.04,753.41 160.55,753.42 161.05,753.43 161.56,753.43 162.07,753.44 162.58,753.44 163.09,753.45 163.59,753.45 164.10,753.46 164.61,753.46 165.12,753.47 165.62,753.47 166.13,753.47 166.64,753.47 167.15,753.48 167.66,753.48 168.16,753.48 168.67,753.48 169.18,753.48 169.69,753.49 170.20,753.49 170.70,753.49 171.21,753.49 171.72,753.49 172.23,753.49 172.73,753.49 173.24,753.49 173.75,753.49 174.26,753.49 174.77,753.49 175.27,753.50 175.78,753.50 176.29,753.50 176.80,753.50 177.30,753.50 177.81,753.50 178.32,753.50 178.83,753.50 179.34,753.50 179.84,753.50 180.35,753.50 180.86,753.50 181.37,753.50 181.88,753.50 182.38,753.50 182.89,753.50 183.40,753.50 183.91,753.50 184.41,753.50 184.92,753.50 185.43,753.50 185.94,753.50 186.45,753.50 186.95,753.50 187.46,753.50 187.97,753.50 188.48,753.50 188.98,753.50 189.49,753.50 190.00,753.50 190.51,753.50 191.02,753.50 191.52,753.50 192.03,753.50 192.54,753.50 193.05,753.50 193.55,753.50 194.06,753.50 194.57,753.50 195.08,753.50 195.59,753.50 196.09,753.50 196.60,753.50 197.11,753.50 197.62,753.50 198.12,753.50 198.63,753.50 199.14,753.50 199.65,753.50 200.16,753.50 200.66,753.50 201.17,753.50 201.68,753.50 202.19,753.50 202.70,753.50 203.20,753.50 203.71,753.50 204.22,753.50 204.73,753.50 205.23,753.50 205.74,753.50 206.25,753.50" fill="none" stroke="#e41a1c" stroke-width="2.9" stroke-linejoin="round" stroke-opacity="0.5"/>
<polyline points="43.75,668.48 44.26,668.50 44.77,668.52 45.27,668.54 45.78,668.57 46.29,668.59 46.80,668.62 47.30,668.64 47.81,668.67 48.32,668.70 48.83,668.73 49.34,668.76 49.84,668.79 50.35,668.82 50.86,668.85 51.37,668.88 51.88,668.91 52.38,668.95 52.89,668.98 53.40,669.02 53.91,669.06 54.41,669.10 54.92,669.14 55.43,669.18 55.94,669.22 56.45,669.27 56.95,669.31 57.46,669.36 57.97,669.40 58.48,669.45 58.98,669.50 59.49,669.56 60.00,669.61 60.51,669.66 61.02,669.72 61.52,669.78 62.03,669.84 62.54,669.90 63.05,669.96 63.55,670.03 64.06,670.09 64.57,670.16 65.08,670.23 65.59,670.31 66.09,670.38 66.60,670.46 67.11,670.54 67.62,670.62 68.12,670.70 68.63,670.79 69.14,670.88 69.65,670.97 70.16,671.06 70.66,671.16 71.17,671.26 71.68,671.36 72.19,671.46 72.70,671.57 73.20,671.68 73.71,671.79 74.22,671.91 74.73,672.03 75.23,672.15 75.74,672.28 76.25,672.41 76.76,672.54 77.27,672.68 77.77,672.82 78.28,672.96 78.79,673.11 79.30,673.26 79.80,673.41 80.31,673.57 80.82,673.74 81.33,673.91 81.84,674.08 82.34,674.25 82.85,674.44 83.36,674.62 83.87,674.81 84.38,675.01 84.88,675.21 85.39,675.41 85.90,675.62 86.41,675.84 86.91,676.06 87.42,676.29 87.93,676.52 88.44,676.75 88.95,677.00 89.45,677.24 89.96,677.50 90.47,677.76 90.98,678.03 91.48,678.30 91.99,678.58 92.50,678.86 93.01,679.15 93.52,679.45 94.02,679.75 94.53,680.06 95.04,680.38 95.55,680.70 96.05,681.04 96.56,681.37 97.07,681.72 97.58,682.07 98.09,682.43 98.59,682.79 99.10,683.17 99.61,683.55 100.12,683.93 100.62,684.33 101.13,684.73 101.64,685.14 102.15,685.55 102.66,685.98 103.16,686.41 103.67,686.85 104.18,687.29 104.69,687.74 105.20,688.20 105.70,688.67 106.21,689.15 106.72,689.63 107.23,690.12 107.73,690.61 108.24,691.11 108.75,691.62 109.26,692.14 109.77,692.66 110.27,693.19 110.78,693.73 111.29,694.27 111.80,694.82 112.30,695.37 112.81,695.93 113.32,696.50 113.83,697.07 114.34,697.65 114.84,698.23 115.35,698.82 115.86,699.41 116.37,700.00 116.88,700.61 117.38,701.21 117.89,701.82 118.40,702.43 118.91,703.05 119.41,703.67 119.92,704.29 120.43,704.92 120.94,705.54 121.45,706.17 121.95,706.81 122.46,707.44 122.97,708.08 123.48,708.71 123.98,709.35 124.49,709.99 125.00,710.62 125.51,711.26 126.02,711.90 126.52,712.54 127.03,713.17 127.54,713.81 128.05,714.44 128.55,715.08 129.06,715.71 129.57,716.33 130.08,716.96 130.59,717.58 131.09,718.20 131.60,718.82 132.11,719.43 132.62,720.04 133.12,720.64 133.63,721.25 134.14,721.84 134.65,722.43 135.16,723.02 135.66,723.60 136.17,724.18 136.68,724.75 137.19,725.32 137.70,725.88 138.20,726.43 138.71,726.98 139.22,727.52 139.73,728.06 140.23,728.59 140.74,729.11 141.25,729.63 141.76,730.14 142.27,730.64 142.77,731.13 143.28,731.62 143.79,732.10 144.30,732.58 144.80,733.05 145.31,733.51 145.82,733.96 146.33,734.40 146.84,734.84 147.34,735.27 147.85,735.70 148.36,736.11 148.87,736.52 149.38,736.92 149.88,737.32 150.39,737.70 150.90,738.08 151.41,738.46 151.91,738.82 152.42,739.18 152.93,739.53 153.44,739.88 153.95,740.21 154.45,740.55 154.96,740.87 155.47,741.19 155.98,741.50 156.48,741.80 156.99,742.10 157.50,742.39 158.01,742.67 158.52,742.95 159.02,743.22 159.53,743.49 160.04,743.75 160.55,744.01 161.05,744.25 161.56,744.50 162.07,744.73 162.58,744.96 163.09,745.19 163.59,745.41 164.10,745.63 164.61,745.84 165.12,746.04 165.62,746.24 166.13,746.44 166.64,746.63 167.15,746.81 167.66,747.00 168.16,747.17 168.67,747.34 169.18,747.51 169.69,747.68 170.20,747.84 170.70,747.99 171.21,748.14 171.72,748.29 172.23,748.43 172.73,748.57 173.24,748.71 173.75,748.84 174.26,748.97 174.77,749.10 175.27,749.22 175.78,749.34 176.29,749.46 176.80,749.57 177.30,749.68 177.81,749.79 178.32,749.89 178.83,749.99 179.34,750.09 179.84,750.19 180.35,750.28 180.86,750.37 181.37,750.46 181.88,750.55 182.38,750.63 182.89,750.71 183.40,750.79 183.91,750.87 184.41,750.94 184.92,751.02 185.43,751.09 185.94,751.16 186.45,751.22 186.95,751.29 187.46,751.35 187.97,751.41 188.48,751.47 188.98,751.53 189.49,751.59 190.00,751.64 190.51,751.69 191.02,751.75 191.52,751.80 192.03,751.85 192.54,751.89 193.05,751.94 193.55,751.98 194.06,752.03 194.57,752.07 195.08,752.11 195.59,752.15 196.09,752.19 196.60,752.23 197.11,752.27 197.62,752.30 198.12,752.34 198.63,752.37 199.14,752.40 199.65,752.43 200.16,752.46 200.66,752.49 201.17,752.52 201.68,752.55 202.19,752.58 202.70,752.61 203.20,752.63 203.71,752.66 204.22,752.68 204.73,752.71 205.23,752.73 205.74,752.75 206.25,752.77" fill="none" stroke="#e41a1c" stroke-width="2.9" stroke-linejoin="round"/>
</g>
<clipPath id="ce"><rect x="43.75" y="775.0" width="162.5" height="129.0"/></clipPath><g clip-path="url(#ce)">
<polyline points="43.75,889.30 44.26,889.30 44.77,889.30 45.27,889.30 45.78,889.30 46.29,889.30 46.80,889.30 47.30,889.30 47.81,889.30 48.32,889.30 48.83,889.30 49.34,889.30 49.84,889.30 50.35,889.30 50.86,889.30 51.37,889.30 51.88,889.30 52.38,889.30 52.89,889.30 53.40,889.30 53.91,889.30 54.41,889.30 54.92,889.30 55.43,889.30 55.94,889.30 56.45,889.30 56.95,889.30 57.46,889.30 57.97,889.30 58.48,889.30 58.98,889.30 59.49,889.30 60.00,889.30 60.51,889.30 61.02,889.30 61.52,889.30 62.03,889.30 62.54,889.30 63.05,889.30 63.55,889.30 64.06,889.30 64.57,889.30 65.08,889.30 65.59,889.30 66.09,889.30 66.60,889.30 67.11,889.30 67.62,889.30 68.12,889.30 68.63,889.30 69.14,889.30 69.65,889.30 70.16,889.30 70.66,889.30 71.17,889.30 71.68,889.30 72.19,889.30 72.70,889.30 73.20,889.30 73.71,889.30 74.22,889.30 74.73,889.30 75.23,889.30 75.74,889.30 76.25,889.30 76.76,889.30 77.27,889.30 77.77,889.30 78.28,889.30 78.79,889.30 79.30,889.30 79.80,889.30 80.31,889.30 80.82,889.30 81.33,889.30 81.84,889.30 82.34,889.30 82.85,889.30 83.36,889.30 83.87,889.30 84.38,889.30 84.88,889.30 85.39,889.30 85.90,889.30 86.41,889.30 86.91,889.30 87.42,889.30 87.93,889.30 88.44,889.30 88.95,889.30 89.45,889.29 89.96,889.29 90.47,889.29 90.98,889.29 91.48,889.29 91.99,889.29 92.50,889.29 93.01,889.28 93.52,889.28 94.02,889.28 94.53,889.27 95.04,889.27 95.55,889.26 96.05,889.25 96.56,889.25 97.07,889.24 97.58,889.22 98.09,889.21 98.59,889.19 99.10,889.17 99.61,889.15 100.12,889.13 100.62,889.09 101.13,889.06 101.64,889.01 102.15,888.96 102.66,888.90 103.16,888.83 103.67,888.75 104.18,888.65 104.69,888.54 105.20,888.40 105.70,888.25 106.21,888.07 106.72,887.85 107.23,887.60 107.73,887.31 108.24,886.97 108.75,886.57 109.26,886.11 109.77,885.58 110.27,884.96 110.78,884.24 111.29,883.40 111.80,882.44 112.30,881.33 112.81,880.05 113.32,878.59 113.83,876.91 114.34,874.99 114.84,872.82 115.35,870.35 115.86,867.57 116.37,864.45 116.88,860.97 117.38,857.11 117.89,852.87 118.40,848.24 118.91,843.25 119.41,837.93 119.92,832.35 120.43,826.57 120.94,820.72 121.45,814.92 121.95,809.35 122.46,804.18 122.97,799.61 123.48,795.81 123.98,792.96 124.49,791.19 125.00,790.60 125.51,791.19 126.02,792.96 126.52,795.81 127.03,799.61 127.54,804.18 128.05,809.35 128.55,814.92 129.06,820.72 129.57,826.57 130.08,832.35 130.59,837.93 131.09,843.25 131.60,848.24 132.11,852.87 132.62,857.11 133.12,860.97 133.63,864.45 134.14,867.57 134.65,870.35 135.16,872.82 135.66,874.99 136.17,876.91 136.68,878.59 137.19,880.05 137.70,881.33 138.20,882.44 138.71,883.40 139.22,884.24 139.73,884.96 140.23,885.58 140.74,886.11 141.25,886.57 141.76,886.97 142.27,887.31 142.77,887.60 143.28,887.85 143.79,888.07 144.30,888.25 144.80,888.40 145.31,888.54 145.82,888.65 146.33,888.75 146.84,888.83 147.34,888.90 147.85,888.96 148.36,889.01 148.87,889.06 149.38,889.09 149.88,889.13 150.39,889.15 150.90,889.17 151.41,889.19 151.91,889.21 152.42,889.22 152.93,889.24 153.44,889.25 153.95,889.25 154.45,889.26 154.96,889.27 155.47,889.27 155.98,889.28 156.48,889.28 156.99,889.28 157.50,889.29 158.01,889.29 158.52,889.29 159.02,889.29 159.53,889.29 160.04,889.29 160.55,889.29 161.05,889.30 161.56,889.30 162.07,889.30 162.58,889.30 163.09,889.30 163.59,889.30 164.10,889.30 164.61,889.30 165.12,889.30 165.62,889.30 166.13,889.30 166.64,889.30 167.15,889.30 167.66,889.30 168.16,889.30 168.67,889.30 169.18,889.30 169.69,889.30 170.20,889.30 170.70,889.30 171.21,889.30 171.72,889.30 172.23,889.30 172.73,889.30 173.24,889.30 173.75,889.30 174.26,889.30 174.77,889.30 175.27,889.30 175.78,889.30 176.29,889.30 176.80,889.30 177.30,889.30 177.81,889.30 178.32,889.30 178.83,889.30 179.34,889.30 179.84,889.30 180.35,889.30 180.86,889.30 181.37,889.30 181.88,889.30 182.38,889.30 182.89,889.30 183.40,889.30 183.91,889.30 184.41,889.30 184.92,889.30 185.43,889.30 185.94,889.30 186.45,889.30 186.95,889.30 187.46,889.30 187.97,889.30 188.48,889.30 188.98,889.30 189.49,889.30 190.00,889.30 190.51,889.30 191.02,889.30 191.52,889.30 192.03,889.30 192.54,889.30 193.05,889.30 193.55,889.30 194.06,889.30 194.57,889.30 195.08,889.30 195.59,889.30 196.09,889.30 196.60,889.30 197.11,889.30 197.62,889.30 198.12,889.30 198.63,889.30 199.14,889.30 199.65,889.30 200.16,889.30 200.66,889.30 201.17,889.30 201.68,889.30 202.19,889.30 202.70,889.30 203.20,889.30 203.71,889.30 204.22,889.30 204.73,889.30 205.23,889.30 205.74,889.30 206.25,889.30" fill="none" stroke="#377eb8" stroke-width="2.9" stroke-linejoin="round"/>
<polyline points="43.75,889.30 44.26,889.30 44.77,889.30 45.27,889.30 45.78,889.30 46.29,889.30 46.80,889.30 47.30,889.30 47.81,889.30 48.32,889.30 48.83,889.30 49.34,889.30 49.84,889.30 50.35,889.30 50.86,889.30 51.37,889.30 51.88,889.30 52.38,889.30 52.89,889.30 53.40,889.30 53.91,889.30 54.41,889.30 54.92,889.29 55.43,889.29 55.94,889.29 56.45,889.29 56.95,889.29 57.46,889.29 57.97,889.29 58.48,889.29 58.98,889.29 59.49,889.29 60.00,889.29 60.51,889.29 61.02,889.29 61.52,889.28 62.03,889.28 62.54,889.28 63.05,889.28 63.55,889.28 64.06,889.28 64.57,889.27 65.08,889.27 65.59,889.27 66.09,889.27 66.60,889.26 67.11,889.26 67.62,889.26 68.12,889.25 68.63,889.25 69.14,889.24 69.65,889.24 70.16,889.23 70.66,889.23 71.17,889.22 71.68,889.21 72.19,889.21 72.70,889.20 73.20,889.19 73.71,889.18 74.22,889.17 74.73,889.16 75.23,889.15 75.74,889.13 76.25,889.12 76.76,889.10 77.27,889.08 77.77,889.06 78.28,889.04 78.79,889.02 79.30,889.00 79.80,888.97 80.31,888.94 80.82,888.91 81.33,888.88 81.84,888.84 82.34,888.80 82.85,888.76 83.36,888.71 83.87,888.66 84.38,888.61 84.88,888.55 85.39,888.49 85.90,888.42 86.41,888.34 86.91,888.26 87.42,888.17 87.93,888.07 88.44,887.97 88.95,887.86 89.45,887.74 89.96,887.61 90.47,887.46 90.98,887.31 91.48,887.14 91.99,886.97 92.50,886.77 93.01,886.56 93.52,886.34 94.02,886.09 94.53,885.83 95.04,885.54 95.55,885.24 96.05,884.91 96.56,884.55 97.07,884.17 97.58,883.75 98.09,883.31 98.59,882.83 99.10,882.31 99.61,881.76 100.12,881.17 100.62,880.53 101.13,879.84 101.64,879.11 102.15,878.32 102.66,877.48 103.16,876.58 103.67,875.62 104.18,874.59 104.69,873.49 105.20,872.33 105.70,871.08 106.21,869.76 106.72,868.35 107.23,866.86 107.73,865.27 108.24,863.60 108.75,861.83 109.26,859.97 109.77,858.01 110.27,855.94 110.78,853.78 111.29,851.52 111.80,849.17 112.30,846.71 112.81,844.17 113.32,841.54 113.83,838.83 114.34,836.04 114.84,833.19 115.35,830.29 115.86,827.35 116.37,824.39 116.88,821.41 117.38,818.45 117.89,815.52 118.40,812.64 118.91,809.84 119.41,807.13 119.92,804.55 120.43,802.12 120.94,799.86 121.45,797.80 121.95,795.96 122.46,794.37 122.97,793.03 123.48,791.98 123.98,791.21 124.49,790.75 125.00,790.60 125.51,790.75 126.02,791.21 126.52,791.98 127.03,793.03 127.54,794.37 128.05,795.96 128.55,797.80 129.06,799.86 129.57,802.12 130.08,804.55 130.59,807.13 131.09,809.84 131.60,812.64 132.11,815.52 132.62,818.45 133.12,821.41 133.63,824.39 134.14,827.35 134.65,830.29 135.16,833.19 135.66,836.04 136.17,838.83 136.68,841.54 137.19,844.17 137.70,846.71 138.20,849.17 138.71,851.52 139.22,853.78 139.73,855.94 140.23,858.01 140.74,859.97 141.25,861.83 141.76,863.60 142.27,865.27 142.77,866.86 143.28,868.35 143.79,869.76 144.30,871.08 144.80,872.33 145.31,873.49 145.82,874.59 146.33,875.62 146.84,876.58 147.34,877.48 147.85,878.32 148.36,879.11 148.87,879.84 149.38,880.53 149.88,881.17 150.39,881.76 150.90,882.31 151.41,882.83 151.91,883.31 152.42,883.75 152.93,884.17 153.44,884.55 153.95,884.91 154.45,885.24 154.96,885.54 155.47,885.83 155.98,886.09 156.48,886.34 156.99,886.56 157.50,886.77 158.01,886.97 158.52,887.14 159.02,887.31 159.53,887.46 160.04,887.61 160.55,887.74 161.05,887.86 161.56,887.97 162.07,888.07 162.58,888.17 163.09,888.26 163.59,888.34 164.10,888.42 164.61,888.49 165.12,888.55 165.62,888.61 166.13,888.66 166.64,888.71 167.15,888.76 167.66,888.80 168.16,888.84 168.67,888.88 169.18,888.91 169.69,888.94 170.20,888.97 170.70,889.00 171.21,889.02 171.72,889.04 172.23,889.06 172.73,889.08 173.24,889.10 173.75,889.12 174.26,889.13 174.77,889.15 175.27,889.16 175.78,889.17 176.29,889.18 176.80,889.19 177.30,889.20 177.81,889.21 178.32,889.21 178.83,889.22 179.34,889.23 179.84,889.23 180.35,889.24 180.86,889.24 181.37,889.25 181.88,889.25 182.38,889.26 182.89,889.26 183.40,889.26 183.91,889.27 184.41,889.27 184.92,889.27 185.43,889.27 185.94,889.28 186.45,889.28 186.95,889.28 187.46,889.28 187.97,889.28 188.48,889.28 188.98,889.29 189.49,889.29 190.00,889.29 190.51,889.29 191.02,889.29 191.52,889.29 192.03,889.29 192.54,889.29 193.05,889.29 193.55,889.29 194.06,889.29 194.57,889.29 195.08,889.29 195.59,889.30 196.09,889.30 196.60,889.30 197.11,889.30 197.62,889.30 198.12,889.30 198.63,889.30 199.14,889.30 199.65,889.30 200.16,889.30 200.66,889.30 201.17,889.30 201.68,889.30 202.19,889.30 202.70,889.30 203.20,889.30 203.71,889.30 204.22,889.30 204.73,889.30 205.23,889.30 205.74,889.30 206.25,889.30" fill="none" stroke="#e41a1c" stroke-width="2.9" stroke-linejoin="round" stroke-opacity="0.5"/>
<polyline points="43.75,882.34 44.26,882.17 44.77,881.99 45.27,881.81 45.78,881.63 46.29,881.44 46.80,881.25 47.30,881.05 47.81,880.85 48.32,880.64 48.83,880.43 49.34,880.22 49.84,880.00 50.35,879.77 50.86,879.54 51.37,879.31 51.88,879.07 52.38,878.82 52.89,878.57 53.40,878.31 53.91,878.05 54.41,877.78 54.92,877.51 55.43,877.23 55.94,876.94 56.45,876.65 56.95,876.35 57.46,876.05 57.97,875.73 58.48,875.41 58.98,875.09 59.49,874.76 60.00,874.42 60.51,874.07 61.02,873.72 61.52,873.36 62.03,872.99 62.54,872.62 63.05,872.23 63.55,871.84 64.06,871.44 64.57,871.04 65.08,870.62 65.59,870.20 66.09,869.77 66.60,869.33 67.11,868.88 67.62,868.42 68.12,867.96 68.63,867.48 69.14,867.00 69.65,866.51 70.16,866.01 70.66,865.50 71.17,864.98 71.68,864.45 72.19,863.91 72.70,863.36 73.20,862.80 73.71,862.24 74.22,861.66 74.73,861.07 75.23,860.47 75.74,859.87 76.25,859.25 76.76,858.62 77.27,857.99 77.77,857.34 78.28,856.68 78.79,856.01 79.30,855.34 79.80,854.65 80.31,853.95 80.82,853.24 81.33,852.53 81.84,851.80 82.34,851.06 82.85,850.31 83.36,849.56 83.87,848.79 84.38,848.01 84.88,847.22 85.39,846.43 85.90,845.62 86.41,844.81 86.91,843.99 87.42,843.15 87.93,842.31 88.44,841.46 88.95,840.61 89.45,839.74 89.96,838.87 90.47,837.99 90.98,837.10 91.48,836.20 91.99,835.30 92.50,834.39 93.01,833.48 93.52,832.56 94.02,831.64 94.53,830.71 95.04,829.78 95.55,828.84 96.05,827.90 96.56,826.96 97.07,826.01 97.58,825.07 98.09,824.12 98.59,823.17 99.10,822.22 99.61,821.27 100.12,820.33 100.62,819.38 101.13,818.44 101.64,817.50 102.15,816.56 102.66,815.63 103.16,814.70 103.67,813.78 104.18,812.87 104.69,811.96 105.20,811.07 105.70,810.18 106.21,809.30 106.72,808.43 107.23,807.57 107.73,806.73 108.24,805.90 108.75,805.08 109.26,804.28 109.77,803.49 110.27,802.72 110.78,801.96 111.29,801.22 111.80,800.51 112.30,799.81 112.81,799.13 113.32,798.47 113.83,797.84 114.34,797.22 114.84,796.63 115.35,796.07 115.86,795.53 116.37,795.01 116.88,794.52 117.38,794.06 117.89,793.62 118.40,793.21 118.91,792.83 119.41,792.48 119.92,792.16 120.43,791.86 120.94,791.60 121.45,791.36 121.95,791.16 122.46,790.99 122.97,790.85 123.48,790.74 123.98,790.66 124.49,790.61 125.00,790.60 125.51,790.61 126.02,790.66 126.52,790.74 127.03,790.85 127.54,790.99 128.05,791.16 128.55,791.36 129.06,791.60 129.57,791.86 130.08,792.16 130.59,792.48 131.09,792.83 131.60,793.21 132.11,793.62 132.62,794.06 133.12,794.52 133.63,795.01 134.14,795.53 134.65,796.07 135.16,796.63 135.66,797.22 136.17,797.84 136.68,798.47 137.19,799.13 137.70,799.81 138.20,800.51 138.71,801.22 139.22,801.96 139.73,802.72 140.23,803.49 140.74,804.28 141.25,805.08 141.76,805.90 142.27,806.73 142.77,807.57 143.28,808.43 143.79,809.30 144.30,810.18 144.80,811.07 145.31,811.96 145.82,812.87 146.33,813.78 146.84,814.70 147.34,815.63 147.85,816.56 148.36,817.50 148.87,818.44 149.38,819.38 149.88,820.33 150.39,821.27 150.90,822.22 151.41,823.17 151.91,824.12 152.42,825.07 152.93,826.01 153.44,826.96 153.95,827.90 154.45,828.84 154.96,829.78 155.47,830.71 155.98,831.64 156.48,832.56 156.99,833.48 157.50,834.39 158.01,835.30 158.52,836.20 159.02,837.10 159.53,837.99 160.04,838.87 160.55,839.74 161.05,840.61 161.56,841.46 162.07,842.31 162.58,843.15 163.09,843.99 163.59,844.81 164.10,845.62 164.61,846.43 165.12,847.22 165.62,848.01 166.13,848.79 166.64,849.56 167.15,850.31 167.66,851.06 168.16,851.80 168.67,852.53 169.18,853.24 169.69,853.95 170.20,854.65 170.70,855.34 171.21,856.01 171.72,856.68 172.23,857.34 172.73,857.99 173.24,858.62 173.75,859.25 174.26,859.87 174.77,860.47 175.27,861.07 175.78,861.66 176.29,862.24 176.80,862.80 177.30,863.36 177.81,863.91 178.32,864.45 178.83,864.98 179.34,865.50 179.84,866.01 180.35,866.51 180.86,867.00 181.37,867.48 181.88,867.96 182.38,868.42 182.89,868.88 183.40,869.33 183.91,869.77 184.41,870.20 184.92,870.62 185.43,871.04 185.94,871.44 186.45,871.84 186.95,872.23 187.46,872.62 187.97,872.99 188.48,873.36 188.98,873.72 189.49,874.07 190.00,874.42 190.51,874.76 191.02,875.09 191.52,875.41 192.03,875.73 192.54,876.05 193.05,876.35 193.55,876.65 194.06,876.94 194.57,877.23 195.08,877.51 195.59,877.78 196.09,878.05 196.60,878.31 197.11,878.57 197.62,878.82 198.12,879.07 198.63,879.31 199.14,879.54 199.65,879.77 200.16,880.00 200.66,880.22 201.17,880.43 201.68,880.64 202.19,880.85 202.70,881.05 203.20,881.25 203.71,881.44 204.22,881.63 204.73,881.81 205.23,881.99 205.74,882.17 206.25,882.34" fill="none" stroke="#e41a1c" stroke-width="2.9" stroke-linejoin="round"/>
</g>
<clipPath id="cd"><rect x="249.25" y="646.75" width="162.75" height="128.25"/></clipPath><g clip-path="url(#cd)">
<polyline points="249.25,766.60 249.76,766.60 250.27,766.60 250.78,766.60 251.28,766.60 251.79,766.60 252.30,766.60 252.81,766.60 253.32,766.60 253.83,766.60 254.34,766.60 254.84,766.60 255.35,766.60 255.86,766.60 256.37,766.60 256.88,766.60 257.39,766.60 257.90,766.60 258.40,766.60 258.91,766.60 259.42,766.60 259.93,766.60 260.44,766.60 260.95,766.60 261.46,766.60 261.96,766.60 262.47,766.60 262.98,766.60 263.49,766.60 264.00,766.60 264.51,766.60 265.02,766.60 265.52,766.60 266.03,766.60 266.54,766.60 267.05,766.60 267.56,766.60 268.07,766.60 268.58,766.60 269.09,766.60 269.59,766.60 270.10,766.60 270.61,766.60 271.12,766.60 271.63,766.60 272.14,766.60 272.65,766.60 273.15,766.60 273.66,766.60 274.17,766.60 274.68,766.60 275.19,766.60 275.70,766.60 276.21,766.60 276.71,766.60 277.22,766.60 277.73,766.60 278.24,766.60 278.75,766.60 279.26,766.60 279.77,766.60 280.27,766.60 280.78,766.60 281.29,766.60 281.80,766.60 282.31,766.60 282.82,766.60 283.33,766.60 283.83,766.60 284.34,766.60 284.85,766.60 285.36,766.60 285.87,766.60 286.38,766.60 286.89,766.60 287.39,766.60 287.90,766.60 288.41,766.60 288.92,766.60 289.43,766.60 289.94,766.60 290.45,766.60 290.95,766.60 291.46,766.60 291.97,766.60 292.48,766.60 292.99,766.60 293.50,766.60 294.01,766.60 294.51,766.60 295.02,766.60 295.53,766.60 296.04,766.60 296.55,766.60 297.06,766.60 297.57,766.60 298.07,766.60 298.58,766.60 299.09,766.60 299.60,766.60 300.11,766.59 300.62,766.59 301.13,766.59 301.64,766.59 302.14,766.59 302.65,766.59 303.16,766.58 303.67,766.58 304.18,766.57 304.69,766.57 305.20,766.56 305.70,766.56 306.21,766.55 306.72,766.54 307.23,766.52 307.74,766.51 308.25,766.49 308.76,766.47 309.26,766.44 309.77,766.41 310.28,766.37 310.79,766.32 311.30,766.26 311.81,766.19 312.32,766.11 312.82,766.00 313.33,765.88 313.84,765.74 314.35,765.56 314.86,765.35 315.37,765.09 315.88,764.79 316.38,764.42 316.89,763.98 317.40,763.45 317.91,762.81 318.42,762.05 318.93,761.14 319.44,760.06 319.94,758.77 320.45,757.24 320.96,755.43 321.47,753.29 321.98,750.78 322.49,747.84 323.00,744.44 323.50,740.51 324.01,736.02 324.52,730.95 325.03,725.28 325.54,719.06 326.05,712.33 326.56,705.22 327.06,697.90 327.57,690.60 328.08,683.60 328.59,677.23 329.10,671.82 329.61,667.68 330.12,665.09 330.62,664.20 331.13,665.09 331.64,667.68 332.15,671.82 332.66,677.23 333.17,683.60 333.68,690.60 334.19,697.90 334.69,705.22 335.20,712.33 335.71,719.06 336.22,725.28 336.73,730.95 337.24,736.02 337.75,740.51 338.25,744.44 338.76,747.84 339.27,750.78 339.78,753.29 340.29,755.43 340.80,757.24 341.31,758.77 341.81,760.06 342.32,761.14 342.83,762.05 343.34,762.81 343.85,763.45 344.36,763.98 344.87,764.42 345.37,764.79 345.88,765.09 346.39,765.35 346.90,765.56 347.41,765.74 347.92,765.88 348.43,766.00 348.93,766.11 349.44,766.19 349.95,766.26 350.46,766.32 350.97,766.37 351.48,766.41 351.99,766.44 352.49,766.47 353.00,766.49 353.51,766.51 354.02,766.52 354.53,766.54 355.04,766.55 355.55,766.56 356.05,766.56 356.56,766.57 357.07,766.57 357.58,766.58 358.09,766.58 358.60,766.59 359.11,766.59 359.61,766.59 360.12,766.59 360.63,766.59 361.14,766.59 361.65,766.60 362.16,766.60 362.67,766.60 363.18,766.60 363.68,766.60 364.19,766.60 364.70,766.60 365.21,766.60 365.72,766.60 366.23,766.60 366.74,766.60 367.24,766.60 367.75,766.60 368.26,766.60 368.77,766.60 369.28,766.60 369.79,766.60 370.30,766.60 370.80,766.60 371.31,766.60 371.82,766.60 372.33,766.60 372.84,766.60 373.35,766.60 373.86,766.60 374.36,766.60 374.87,766.60 375.38,766.60 375.89,766.60 376.40,766.60 376.91,766.60 377.42,766.60 377.92,766.60 378.43,766.60 378.94,766.60 379.45,766.60 379.96,766.60 380.47,766.60 380.98,766.60 381.48,766.60 381.99,766.60 382.50,766.60 383.01,766.60 383.52,766.60 384.03,766.60 384.54,766.60 385.04,766.60 385.55,766.60 386.06,766.60 386.57,766.60 387.08,766.60 387.59,766.60 388.10,766.60 388.60,766.60 389.11,766.60 389.62,766.60 390.13,766.60 390.64,766.60 391.15,766.60 391.66,766.60 392.16,766.60 392.67,766.60 393.18,766.60 393.69,766.60 394.20,766.60 394.71,766.60 395.22,766.60 395.73,766.60 396.23,766.60 396.74,766.60 397.25,766.60 397.76,766.60 398.27,766.60 398.78,766.60 399.29,766.60 399.79,766.60 400.30,766.60 400.81,766.60 401.32,766.60 401.83,766.60 402.34,766.60 402.85,766.60 403.35,766.60 403.86,766.60 404.37,766.60 404.88,766.60 405.39,766.60 405.90,766.60 406.41,766.60 406.91,766.60 407.42,766.60 407.93,766.60 408.44,766.60 408.95,766.60 409.46,766.60 409.97,766.60 410.47,766.60 410.98,766.60 411.49,766.60 412.00,766.60" fill="none" stroke="#377eb8" stroke-width="2.9" stroke-linejoin="round"/>
<polyline points="249.25,766.60 249.76,766.60 250.27,766.60 250.78,766.60 251.28,766.60 251.79,766.60 252.30,766.60 252.81,766.60 253.32,766.60 253.83,766.60 254.34,766.60 254.84,766.60 255.35,766.60 255.86,766.60 256.37,766.60 256.88,766.60 257.39,766.60 257.90,766.60 258.40,766.60 258.91,766.60 259.42,766.60 259.93,766.60 260.44,766.60 260.95,766.60 261.46,766.60 261.96,766.60 262.47,766.60 262.98,766.60 263.49,766.60 264.00,766.60 264.51,766.60 265.02,766.60 265.52,766.60 266.03,766.60 266.54,766.60 267.05,766.60 267.56,766.60 268.07,766.60 268.58,766.60 269.09,766.60 269.59,766.60 270.10,766.60 270.61,766.60 271.12,766.59 271.63,766.59 272.14,766.59 272.65,766.59 273.15,766.59 273.66,766.59 274.17,766.59 274.68,766.59 275.19,766.59 275.70,766.59 276.21,766.59 276.71,766.59 277.22,766.58 277.73,766.58 278.24,766.58 278.75,766.58 279.26,766.58 279.77,766.58 280.27,766.57 280.78,766.57 281.29,766.57 281.80,766.57 282.31,766.56 282.82,766.56 283.33,766.56 283.83,766.55 284.34,766.55 284.85,766.54 285.36,766.54 285.87,766.53 286.38,766.52 286.89,766.52 287.39,766.51 287.90,766.50 288.41,766.49 288.92,766.48 289.43,766.47 289.94,766.46 290.45,766.44 290.95,766.43 291.46,766.41 291.97,766.40 292.48,766.38 292.99,766.36 293.50,766.33 294.01,766.31 294.51,766.28 295.02,766.25 295.53,766.22 296.04,766.19 296.55,766.15 297.06,766.11 297.57,766.06 298.07,766.01 298.58,765.96 299.09,765.90 299.60,765.83 300.11,765.76 300.62,765.68 301.13,765.60 301.64,765.50 302.14,765.40 302.65,765.29 303.16,765.17 303.67,765.04 304.18,764.90 304.69,764.74 305.20,764.57 305.70,764.39 306.21,764.19 306.72,763.97 307.23,763.73 307.74,763.47 308.25,763.19 308.76,762.89 309.26,762.56 309.77,762.20 310.28,761.81 310.79,761.39 311.30,760.94 311.81,760.45 312.32,759.91 312.82,759.34 313.33,758.73 313.84,758.07 314.35,757.35 314.86,756.59 315.37,755.78 315.88,754.91 316.38,753.98 316.89,753.00 317.40,751.95 317.91,750.85 318.42,749.68 318.93,748.46 319.44,747.18 319.94,745.85 320.45,744.46 320.96,743.03 321.47,741.56 321.98,740.06 322.49,738.53 323.00,736.99 323.50,735.44 324.01,733.91 324.52,732.39 325.03,730.92 325.54,729.50 326.05,728.15 326.56,726.88 327.06,725.72 327.57,724.68 328.08,723.77 328.59,723.00 329.10,722.40 329.61,721.96 330.12,721.69 330.62,721.60 331.13,721.69 331.64,721.96 332.15,722.40 332.66,723.00 333.17,723.77 333.68,724.68 334.19,725.72 334.69,726.88 335.20,728.15 335.71,729.50 336.22,730.92 336.73,732.39 337.24,733.91 337.75,735.44 338.25,736.99 338.76,738.53 339.27,740.06 339.78,741.56 340.29,743.03 340.80,744.46 341.31,745.85 341.81,747.18 342.32,748.46 342.83,749.68 343.34,750.85 343.85,751.95 344.36,753.00 344.87,753.98 345.37,754.91 345.88,755.78 346.39,756.59 346.90,757.35 347.41,758.07 347.92,758.73 348.43,759.34 348.93,759.91 349.44,760.45 349.95,760.94 350.46,761.39 350.97,761.81 351.48,762.20 351.99,762.56 352.49,762.89 353.00,763.19 353.51,763.47 354.02,763.73 354.53,763.97 355.04,764.19 355.55,764.39 356.05,764.57 356.56,764.74 357.07,764.90 357.58,765.04 358.09,765.17 358.60,765.29 359.11,765.40 359.61,765.50 360.12,765.60 360.63,765.68 361.14,765.76 361.65,765.83 362.16,765.90 362.67,765.96 363.18,766.01 363.68,766.06 364.19,766.11 364.70,766.15 365.21,766.19 365.72,766.22 366.23,766.25 366.74,766.28 367.24,766.31 367.75,766.33 368.26,766.36 368.77,766.38 369.28,766.40 369.79,766.41 370.30,766.43 370.80,766.44 371.31,766.46 371.82,766.47 372.33,766.48 372.84,766.49 373.35,766.50 373.86,766.51 374.36,766.52 374.87,766.52 375.38,766.53 375.89,766.54 376.40,766.54 376.91,766.55 377.42,766.55 377.92,766.56 378.43,766.56 378.94,766.56 379.45,766.57 379.96,766.57 380.47,766.57 380.98,766.57 381.48,766.58 381.99,766.58 382.50,766.58 383.01,766.58 383.52,766.58 384.03,766.58 384.54,766.59 385.04,766.59 385.55,766.59 386.06,766.59 386.57,766.59 387.08,766.59 387.59,766.59 388.10,766.59 388.60,766.59 389.11,766.59 389.62,766.59 390.13,766.59 390.64,766.60 391.15,766.60 391.66,766.60 392.16,766.60 392.67,766.60 393.18,766.60 393.69,766.60 394.20,766.60 394.71,766.60 395.22,766.60 395.73,766.60 396.23,766.60 396.74,766.60 397.25,766.60 397.76,766.60 398.27,766.60 398.78,766.60 399.29,766.60 399.79,766.60 400.30,766.60 400.81,766.60 401.32,766.60 401.83,766.60 402.34,766.60 402.85,766.60 403.35,766.60 403.86,766.60 404.37,766.60 404.88,766.60 405.39,766.60 405.90,766.60 406.41,766.60 406.91,766.60 407.42,766.60 407.93,766.60 408.44,766.60 408.95,766.60 409.46,766.60 409.97,766.60 410.47,766.60 410.98,766.60 411.49,766.60 412.00,766.60" fill="none" stroke="#e41a1c" stroke-width="2.9" stroke-linejoin="round" stroke-opacity="0.5"/>
<polyline points="249.25,765.96 249.76,765.95 250.27,765.93 250.78,765.91 251.28,765.89 251.79,765.87 252.30,765.85 252.81,765.83 253.32,765.81 253.83,765.79 254.34,765.76 254.84,765.74 255.35,765.72 255.86,765.69 256.37,765.67 256.88,765.64 257.39,765.61 257.90,765.59 258.40,765.56 258.91,765.53 259.42,765.50 259.93,765.47 260.44,765.44 260.95,765.41 261.46,765.38 261.96,765.34 262.47,765.31 262.98,765.27 263.49,765.24 264.00,765.20 264.51,765.16 265.02,765.12 265.52,765.08 266.03,765.04 266.54,765.00 267.05,764.96 267.56,764.91 268.07,764.87 268.58,764.82 269.09,764.77 269.59,764.72 270.10,764.67 270.61,764.62 271.12,764.57 271.63,764.52 272.14,764.46 272.65,764.41 273.15,764.35 273.66,764.29 274.17,764.23 274.68,764.17 275.19,764.10 275.70,764.04 276.21,763.97 276.71,763.91 277.22,763.84 277.73,763.77 278.24,763.69 278.75,763.62 279.26,763.54 279.77,763.47 280.27,763.39 280.78,763.31 281.29,763.22 281.80,763.14 282.31,763.05 282.82,762.96 283.33,762.87 283.83,762.78 284.34,762.69 284.85,762.59 285.36,762.50 285.87,762.40 286.38,762.30 286.89,762.19 287.39,762.09 287.90,761.98 288.41,761.87 288.92,761.76 289.43,761.65 289.94,761.54 290.45,761.42 290.95,761.30 291.46,761.18 291.97,761.06 292.48,760.94 292.99,760.81 293.50,760.68 294.01,760.55 294.51,760.42 295.02,760.29 295.53,760.15 296.04,760.02 296.55,759.88 297.06,759.74 297.57,759.60 298.07,759.45 298.58,759.31 299.09,759.16 299.60,759.01 300.11,758.86 300.62,758.71 301.13,758.56 301.64,758.41 302.14,758.25 302.65,758.10 303.16,757.94 303.67,757.79 304.18,757.63 304.69,757.47 305.20,757.31 305.70,757.15 306.21,756.99 306.72,756.84 307.23,756.68 307.74,756.52 308.25,756.36 308.76,756.20 309.26,756.04 309.77,755.88 310.28,755.73 310.79,755.57 311.30,755.42 311.81,755.26 312.32,755.11 312.82,754.96 313.33,754.81 313.84,754.67 314.35,754.52 314.86,754.38 315.37,754.24 315.88,754.10 316.38,753.97 316.89,753.83 317.40,753.71 317.91,753.58 318.42,753.46 318.93,753.34 319.44,753.22 319.94,753.11 320.45,753.01 320.96,752.90 321.47,752.80 321.98,752.71 322.49,752.62 323.00,752.54 323.50,752.46 324.01,752.38 324.52,752.31 325.03,752.25 325.54,752.19 326.05,752.13 326.56,752.08 327.06,752.04 327.57,752.00 328.08,751.97 328.59,751.95 329.10,751.93 329.61,751.91 330.12,751.90 330.62,751.90 331.13,751.90 331.64,751.91 332.15,751.93 332.66,751.95 333.17,751.97 333.68,752.00 334.19,752.04 334.69,752.08 335.20,752.13 335.71,752.19 336.22,752.25 336.73,752.31 337.24,752.38 337.75,752.46 338.25,752.54 338.76,752.62 339.27,752.71 339.78,752.80 340.29,752.90 340.80,753.01 341.31,753.11 341.81,753.22 342.32,753.34 342.83,753.46 343.34,753.58 343.85,753.71 344.36,753.83 344.87,753.97 345.37,754.10 345.88,754.24 346.39,754.38 346.90,754.52 347.41,754.67 347.92,754.81 348.43,754.96 348.93,755.11 349.44,755.26 349.95,755.42 350.46,755.57 350.97,755.73 351.48,755.88 351.99,756.04 352.49,756.20 353.00,756.36 353.51,756.52 354.02,756.68 354.53,756.84 355.04,756.99 355.55,757.15 356.05,757.31 356.56,757.47 357.07,757.63 357.58,757.79 358.09,757.94 358.60,758.10 359.11,758.25 359.61,758.41 360.12,758.56 360.63,758.71 361.14,758.86 361.65,759.01 362.16,759.16 362.67,759.31 363.18,759.45 363.68,759.60 364.19,759.74 364.70,759.88 365.21,760.02 365.72,760.15 366.23,760.29 366.74,760.42 367.24,760.55 367.75,760.68 368.26,760.81 368.77,760.94 369.28,761.06 369.79,761.18 370.30,761.30 370.80,761.42 371.31,761.54 371.82,761.65 372.33,761.76 372.84,761.87 373.35,761.98 373.86,762.09 374.36,762.19 374.87,762.30 375.38,762.40 375.89,762.50 376.40,762.59 376.91,762.69 377.42,762.78 377.92,762.87 378.43,762.96 378.94,763.05 379.45,763.14 379.96,763.22 380.47,763.31 380.98,763.39 381.48,763.47 381.99,763.54 382.50,763.62 383.01,763.69 383.52,763.77 384.03,763.84 384.54,763.91 385.04,763.97 385.55,764.04 386.06,764.10 386.57,764.17 387.08,764.23 387.59,764.29 388.10,764.35 388.60,764.41 389.11,764.46 389.62,764.52 390.13,764.57 390.64,764.62 391.15,764.67 391.66,764.72 392.16,764.77 392.67,764.82 393.18,764.87 393.69,764.91 394.20,764.96 394.71,765.00 395.22,765.04 395.73,765.08 396.23,765.12 396.74,765.16 397.25,765.20 397.76,765.24 398.27,765.27 398.78,765.31 399.29,765.34 399.79,765.38 400.30,765.41 400.81,765.44 401.32,765.47 401.83,765.50 402.34,765.53 402.85,765.56 403.35,765.59 403.86,765.61 404.37,765.64 404.88,765.67 405.39,765.69 405.90,765.72 406.41,765.74 406.91,765.76 407.42,765.79 407.93,765.81 408.44,765.83 408.95,765.85 409.46,765.87 409.97,765.89 410.47,765.91 410.98,765.93 411.49,765.95 412.00,765.96" fill="none" stroke="#e41a1c" stroke-width="2.9" stroke-linejoin="round"/>
</g>
<clipPath id="cf"><rect x="249.25" y="775.0" width="162.75" height="129.0"/></clipPath><g clip-path="url(#cf)">
<polyline points="249.25,839.60 249.76,839.60 250.27,839.60 250.78,839.60 251.28,839.60 251.79,839.60 252.30,839.60 252.81,839.60 253.32,839.60 253.83,839.60 254.34,839.60 254.84,839.60 255.35,839.60 255.86,839.60 256.37,839.60 256.88,839.60 257.39,839.60 257.90,839.60 258.40,839.60 258.91,839.60 259.42,839.60 259.93,839.60 260.44,839.60 260.95,839.60 261.46,839.60 261.96,839.60 262.47,839.60 262.98,839.60 263.49,839.60 264.00,839.60 264.51,839.60 265.02,839.60 265.52,839.60 266.03,839.60 266.54,839.60 267.05,839.60 267.56,839.60 268.07,839.60 268.58,839.60 269.09,839.60 269.59,839.60 270.10,839.60 270.61,839.60 271.12,839.60 271.63,839.60 272.14,839.60 272.65,839.60 273.15,839.60 273.66,839.60 274.17,839.60 274.68,839.60 275.19,839.60 275.70,839.60 276.21,839.60 276.71,839.60 277.22,839.60 277.73,839.60 278.24,839.60 278.75,839.60 279.26,839.60 279.77,839.60 280.27,839.60 280.78,839.60 281.29,839.60 281.80,839.60 282.31,839.60 282.82,839.60 283.33,839.60 283.83,839.60 284.34,839.60 284.85,839.60 285.36,839.60 285.87,839.60 286.38,839.60 286.89,839.60 287.39,839.60 287.90,839.60 288.41,839.60 288.92,839.60 289.43,839.60 289.94,839.60 290.45,839.60 290.95,839.60 291.46,839.60 291.97,839.60 292.48,839.60 292.99,839.60 293.50,839.60 294.01,839.60 294.51,839.60 295.02,839.60 295.53,839.60 296.04,839.60 296.55,839.60 297.06,839.60 297.57,839.60 298.07,839.61 298.58,839.61 299.09,839.61 299.60,839.61 300.11,839.61 300.62,839.61 301.13,839.62 301.64,839.62 302.14,839.63 302.65,839.63 303.16,839.64 303.67,839.65 304.18,839.66 304.69,839.67 305.20,839.68 305.70,839.70 306.21,839.72 306.72,839.74 307.23,839.77 307.74,839.80 308.25,839.84 308.76,839.89 309.26,839.95 309.77,840.01 310.28,840.10 310.79,840.19 311.30,840.31 311.81,840.45 312.32,840.61 312.82,840.81 313.33,841.04 313.84,841.31 314.35,841.64 314.86,842.02 315.37,842.48 315.88,843.01 316.38,843.64 316.89,844.37 317.40,845.23 317.91,846.23 318.42,847.39 318.93,848.73 319.44,850.28 319.94,852.05 320.45,854.07 320.96,856.34 321.47,858.90 321.98,861.72 322.49,864.81 323.00,868.14 323.50,871.65 324.01,875.25 324.52,878.82 325.03,882.19 325.54,885.13 326.05,887.39 326.56,888.64 327.06,888.58 327.57,886.90 328.08,883.37 328.59,877.84 329.10,870.38 329.61,861.20 330.12,850.74 330.62,839.60 331.13,828.46 331.64,818.00 332.15,808.82 332.66,801.36 333.17,795.83 333.68,792.30 334.19,790.62 334.69,790.56 335.20,791.81 335.71,794.07 336.22,797.01 336.73,800.38 337.24,803.95 337.75,807.55 338.25,811.06 338.76,814.39 339.27,817.48 339.78,820.30 340.29,822.86 340.80,825.13 341.31,827.15 341.81,828.92 342.32,830.47 342.83,831.81 343.34,832.97 343.85,833.97 344.36,834.83 344.87,835.56 345.37,836.19 345.88,836.72 346.39,837.18 346.90,837.56 347.41,837.89 347.92,838.16 348.43,838.39 348.93,838.59 349.44,838.75 349.95,838.89 350.46,839.01 350.97,839.10 351.48,839.19 351.99,839.25 352.49,839.31 353.00,839.36 353.51,839.40 354.02,839.43 354.53,839.46 355.04,839.48 355.55,839.50 356.05,839.52 356.56,839.53 357.07,839.54 357.58,839.55 358.09,839.56 358.60,839.57 359.11,839.57 359.61,839.58 360.12,839.58 360.63,839.59 361.14,839.59 361.65,839.59 362.16,839.59 362.67,839.59 363.18,839.59 363.68,839.60 364.19,839.60 364.70,839.60 365.21,839.60 365.72,839.60 366.23,839.60 366.74,839.60 367.24,839.60 367.75,839.60 368.26,839.60 368.77,839.60 369.28,839.60 369.79,839.60 370.30,839.60 370.80,839.60 371.31,839.60 371.82,839.60 372.33,839.60 372.84,839.60 373.35,839.60 373.86,839.60 374.36,839.60 374.87,839.60 375.38,839.60 375.89,839.60 376.40,839.60 376.91,839.60 377.42,839.60 377.92,839.60 378.43,839.60 378.94,839.60 379.45,839.60 379.96,839.60 380.47,839.60 380.98,839.60 381.48,839.60 381.99,839.60 382.50,839.60 383.01,839.60 383.52,839.60 384.03,839.60 384.54,839.60 385.04,839.60 385.55,839.60 386.06,839.60 386.57,839.60 387.08,839.60 387.59,839.60 388.10,839.60 388.60,839.60 389.11,839.60 389.62,839.60 390.13,839.60 390.64,839.60 391.15,839.60 391.66,839.60 392.16,839.60 392.67,839.60 393.18,839.60 393.69,839.60 394.20,839.60 394.71,839.60 395.22,839.60 395.73,839.60 396.23,839.60 396.74,839.60 397.25,839.60 397.76,839.60 398.27,839.60 398.78,839.60 399.29,839.60 399.79,839.60 400.30,839.60 400.81,839.60 401.32,839.60 401.83,839.60 402.34,839.60 402.85,839.60 403.35,839.60 403.86,839.60 404.37,839.60 404.88,839.60 405.39,839.60 405.90,839.60 406.41,839.60 406.91,839.60 407.42,839.60 407.93,839.60 408.44,839.60 408.95,839.60 409.46,839.60 409.97,839.60 410.47,839.60 410.98,839.60 411.49,839.60 412.00,839.60" fill="none" stroke="#377eb8" stroke-width="2.9" stroke-linejoin="round"/>
<polyline points="249.25,839.60 249.76,839.60 250.27,839.60 250.78,839.60 251.28,839.60 251.79,839.60 252.30,839.60 252.81,839.60 253.32,839.60 253.83,839.60 254.34,839.60 254.84,839.60 255.35,839.60 255.86,839.60 256.37,839.60 256.88,839.60 257.39,839.60 257.90,839.60 258.40,839.60 258.91,839.60 259.42,839.60 259.93,839.60 260.44,839.61 260.95,839.61 261.46,839.61 261.96,839.61 262.47,839.61 262.98,839.61 263.49,839.61 264.00,839.61 264.51,839.61 265.02,839.61 265.52,839.61 266.03,839.61 266.54,839.61 267.05,839.62 267.56,839.62 268.07,839.62 268.58,839.62 269.09,839.62 269.59,839.62 270.10,839.63 270.61,839.63 271.12,839.63 271.63,839.63 272.14,839.64 272.65,839.64 273.15,839.64 273.66,839.64 274.17,839.65 274.68,839.65 275.19,839.66 275.70,839.66 276.21,839.67 276.71,839.67 277.22,839.68 277.73,839.68 278.24,839.69 278.75,839.70 279.26,839.71 279.77,839.72 280.27,839.73 280.78,839.74 281.29,839.75 281.80,839.76 282.31,839.77 282.82,839.79 283.33,839.80 283.83,839.82 284.34,839.84 284.85,839.86 285.36,839.88 285.87,839.90 286.38,839.92 286.89,839.95 287.39,839.98 287.90,840.01 288.41,840.04 288.92,840.08 289.43,840.11 289.94,840.15 290.45,840.20 290.95,840.25 291.46,840.30 291.97,840.35 292.48,840.41 292.99,840.47 293.50,840.54 294.01,840.62 294.51,840.70 295.02,840.78 295.53,840.87 296.04,840.97 296.55,841.08 297.06,841.19 297.57,841.31 298.07,841.44 298.58,841.58 299.09,841.73 299.60,841.89 300.11,842.06 300.62,842.24 301.13,842.44 301.64,842.64 302.14,842.87 302.65,843.10 303.16,843.36 303.67,843.62 304.18,843.91 304.69,844.21 305.20,844.54 305.70,844.88 306.21,845.24 306.72,845.62 307.23,846.03 307.74,846.45 308.25,846.90 308.76,847.38 309.26,847.87 309.77,848.39 310.28,848.94 310.79,849.50 311.30,850.09 311.81,850.70 312.32,851.33 312.82,851.98 313.33,852.65 313.84,853.33 314.35,854.02 314.86,854.72 315.37,855.43 315.88,856.13 316.38,856.82 316.89,857.50 317.40,858.16 317.91,858.80 318.42,859.39 318.93,859.93 319.44,860.42 319.94,860.84 320.45,861.18 320.96,861.43 321.47,861.57 321.98,861.59 322.49,861.49 323.00,861.25 323.50,860.86 324.01,860.32 324.52,859.61 325.03,858.73 325.54,857.68 326.05,856.47 326.56,855.09 327.06,853.55 327.57,851.86 328.08,850.04 328.59,848.10 329.10,846.06 329.61,843.95 330.12,841.79 330.62,839.60 331.13,837.41 331.64,835.25 332.15,833.14 332.66,831.10 333.17,829.16 333.68,827.34 334.19,825.65 334.69,824.11 335.20,822.73 335.71,821.52 336.22,820.47 336.73,819.59 337.24,818.88 337.75,818.34 338.25,817.95 338.76,817.71 339.27,817.61 339.78,817.63 340.29,817.77 340.80,818.02 341.31,818.36 341.81,818.78 342.32,819.27 342.83,819.81 343.34,820.40 343.85,821.04 344.36,821.70 344.87,822.38 345.37,823.07 345.88,823.77 346.39,824.48 346.90,825.18 347.41,825.87 347.92,826.55 348.43,827.22 348.93,827.87 349.44,828.50 349.95,829.11 350.46,829.70 350.97,830.26 351.48,830.81 351.99,831.33 352.49,831.82 353.00,832.30 353.51,832.75 354.02,833.17 354.53,833.58 355.04,833.96 355.55,834.32 356.05,834.66 356.56,834.99 357.07,835.29 357.58,835.58 358.09,835.84 358.60,836.10 359.11,836.33 359.61,836.56 360.12,836.76 360.63,836.96 361.14,837.14 361.65,837.31 362.16,837.47 362.67,837.62 363.18,837.76 363.68,837.89 364.19,838.01 364.70,838.12 365.21,838.23 365.72,838.33 366.23,838.42 366.74,838.50 367.24,838.58 367.75,838.66 368.26,838.73 368.77,838.79 369.28,838.85 369.79,838.90 370.30,838.95 370.80,839.00 371.31,839.05 371.82,839.09 372.33,839.12 372.84,839.16 373.35,839.19 373.86,839.22 374.36,839.25 374.87,839.28 375.38,839.30 375.89,839.32 376.40,839.34 376.91,839.36 377.42,839.38 377.92,839.40 378.43,839.41 378.94,839.43 379.45,839.44 379.96,839.45 380.47,839.46 380.98,839.47 381.48,839.48 381.99,839.49 382.50,839.50 383.01,839.51 383.52,839.52 384.03,839.52 384.54,839.53 385.04,839.53 385.55,839.54 386.06,839.54 386.57,839.55 387.08,839.55 387.59,839.56 388.10,839.56 388.60,839.56 389.11,839.56 389.62,839.57 390.13,839.57 390.64,839.57 391.15,839.57 391.66,839.58 392.16,839.58 392.67,839.58 393.18,839.58 393.69,839.58 394.20,839.58 394.71,839.59 395.22,839.59 395.73,839.59 396.23,839.59 396.74,839.59 397.25,839.59 397.76,839.59 398.27,839.59 398.78,839.59 399.29,839.59 399.79,839.59 400.30,839.59 400.81,839.59 401.32,839.60 401.83,839.60 402.34,839.60 402.85,839.60 403.35,839.60 403.86,839.60 404.37,839.60 404.88,839.60 405.39,839.60 405.90,839.60 406.41,839.60 406.91,839.60 407.42,839.60 407.93,839.60 408.44,839.60 408.95,839.60 409.46,839.60 409.97,839.60 410.47,839.60 410.98,839.60 411.49,839.60 412.00,839.60" fill="none" stroke="#e41a1c" stroke-width="2.9" stroke-linejoin="round" stroke-opacity="0.5"/>
<polyline points="249.25,841.19 249.76,841.23 250.27,841.26 250.78,841.30 251.28,841.33 251.79,841.37 252.30,841.40 252.81,841.44 253.32,841.48 253.83,841.52 254.34,841.56 254.84,841.60 255.35,841.64 255.86,841.68 256.37,841.73 256.88,841.77 257.39,841.81 257.90,841.86 258.40,841.91 258.91,841.95 259.42,842.00 259.93,842.05 260.44,842.10 260.95,842.14 261.46,842.19 261.96,842.25 262.47,842.30 262.98,842.35 263.49,842.40 264.00,842.46 264.51,842.51 265.02,842.57 265.52,842.62 266.03,842.68 266.54,842.74 267.05,842.80 267.56,842.85 268.07,842.91 268.58,842.98 269.09,843.04 269.59,843.10 270.10,843.16 270.61,843.22 271.12,843.29 271.63,843.35 272.14,843.42 272.65,843.48 273.15,843.55 273.66,843.62 274.17,843.69 274.68,843.75 275.19,843.82 275.70,843.89 276.21,843.96 276.71,844.03 277.22,844.10 277.73,844.17 278.24,844.24 278.75,844.32 279.26,844.39 279.77,844.46 280.27,844.53 280.78,844.60 281.29,844.68 281.80,844.75 282.31,844.82 282.82,844.89 283.33,844.96 283.83,845.04 284.34,845.11 284.85,845.18 285.36,845.25 285.87,845.32 286.38,845.39 286.89,845.46 287.39,845.53 287.90,845.60 288.41,845.66 288.92,845.73 289.43,845.80 289.94,845.86 290.45,845.92 290.95,845.98 291.46,846.04 291.97,846.10 292.48,846.16 292.99,846.22 293.50,846.27 294.01,846.32 294.51,846.37 295.02,846.42 295.53,846.46 296.04,846.51 296.55,846.55 297.06,846.59 297.57,846.62 298.07,846.65 298.58,846.68 299.09,846.71 299.60,846.73 300.11,846.75 300.62,846.77 301.13,846.78 301.64,846.79 302.14,846.80 302.65,846.80 303.16,846.80 303.67,846.79 304.18,846.78 304.69,846.77 305.20,846.75 305.70,846.72 306.21,846.69 306.72,846.66 307.23,846.62 307.74,846.58 308.25,846.53 308.76,846.48 309.26,846.42 309.77,846.35 310.28,846.28 310.79,846.21 311.30,846.13 311.81,846.04 312.32,845.95 312.82,845.86 313.33,845.76 313.84,845.65 314.35,845.54 314.86,845.42 315.37,845.29 315.88,845.16 316.38,845.03 316.89,844.89 317.40,844.75 317.91,844.59 318.42,844.44 318.93,844.28 319.44,844.11 319.94,843.94 320.45,843.77 320.96,843.59 321.47,843.41 321.98,843.22 322.49,843.03 323.00,842.84 323.50,842.64 324.01,842.43 324.52,842.23 325.03,842.02 325.54,841.81 326.05,841.60 326.56,841.38 327.06,841.16 327.57,840.94 328.08,840.72 328.59,840.50 329.10,840.27 329.61,840.05 330.12,839.83 330.62,839.60 331.13,839.37 331.64,839.15 332.15,838.93 332.66,838.70 333.17,838.48 333.68,838.26 334.19,838.04 334.69,837.82 335.20,837.60 335.71,837.39 336.22,837.18 336.73,836.97 337.24,836.77 337.75,836.56 338.25,836.36 338.76,836.17 339.27,835.98 339.78,835.79 340.29,835.61 340.80,835.43 341.31,835.26 341.81,835.09 342.32,834.92 342.83,834.76 343.34,834.61 343.85,834.45 344.36,834.31 344.87,834.17 345.37,834.04 345.88,833.91 346.39,833.78 346.90,833.66 347.41,833.55 347.92,833.44 348.43,833.34 348.93,833.25 349.44,833.16 349.95,833.07 350.46,832.99 350.97,832.92 351.48,832.85 351.99,832.78 352.49,832.72 353.00,832.67 353.51,832.62 354.02,832.58 354.53,832.54 355.04,832.51 355.55,832.48 356.05,832.45 356.56,832.43 357.07,832.42 357.58,832.41 358.09,832.40 358.60,832.40 359.11,832.40 359.61,832.41 360.12,832.42 360.63,832.43 361.14,832.45 361.65,832.47 362.16,832.49 362.67,832.52 363.18,832.55 363.68,832.58 364.19,832.61 364.70,832.65 365.21,832.69 365.72,832.74 366.23,832.78 366.74,832.83 367.24,832.88 367.75,832.93 368.26,832.98 368.77,833.04 369.28,833.10 369.79,833.16 370.30,833.22 370.80,833.28 371.31,833.34 371.82,833.40 372.33,833.47 372.84,833.54 373.35,833.60 373.86,833.67 374.36,833.74 374.87,833.81 375.38,833.88 375.89,833.95 376.40,834.02 376.91,834.09 377.42,834.16 377.92,834.24 378.43,834.31 378.94,834.38 379.45,834.45 379.96,834.52 380.47,834.60 380.98,834.67 381.48,834.74 381.99,834.81 382.50,834.88 383.01,834.96 383.52,835.03 384.03,835.10 384.54,835.17 385.04,835.24 385.55,835.31 386.06,835.38 386.57,835.45 387.08,835.51 387.59,835.58 388.10,835.65 388.60,835.72 389.11,835.78 389.62,835.85 390.13,835.91 390.64,835.98 391.15,836.04 391.66,836.10 392.16,836.16 392.67,836.22 393.18,836.29 393.69,836.35 394.20,836.40 394.71,836.46 395.22,836.52 395.73,836.58 396.23,836.63 396.74,836.69 397.25,836.74 397.76,836.80 398.27,836.85 398.78,836.90 399.29,836.95 399.79,837.01 400.30,837.06 400.81,837.10 401.32,837.15 401.83,837.20 402.34,837.25 402.85,837.29 403.35,837.34 403.86,837.39 404.37,837.43 404.88,837.47 405.39,837.52 405.90,837.56 406.41,837.60 406.91,837.64 407.42,837.68 407.93,837.72 408.44,837.76 408.95,837.80 409.46,837.83 409.97,837.87 410.47,837.90 410.98,837.94 411.49,837.97 412.00,838.01" fill="none" stroke="#e41a1c" stroke-width="2.9" stroke-linejoin="round"/>
</g>
<rect x="43.75" y="646.75" width="162.5" height="257.25" fill="none" stroke="#000" stroke-width="1.6"/>
<line x1="43.75" y1="775.00" x2="206.25" y2="775.00" stroke="#000" stroke-width="1.6" />
<rect x="249.25" y="646.75" width="162.75" height="257.25" fill="none" stroke="#000" stroke-width="1.6"/>
<line x1="249.25" y1="775.00" x2="412.00" y2="775.00" stroke="#000" stroke-width="1.6" />
<defs><linearGradient id="gr" x1="0" y1="0" x2="0" y2="1"><stop offset="0" stop-color="#e41a1c"/><stop offset="0.15" stop-color="#e41a1c"/><stop offset="0.9" stop-color="#377eb8"/><stop offset="1" stop-color="#377eb8"/></linearGradient></defs>
<rect x="174.5" y="665.9" width="14.9" height="65.5" fill="url(#gr)"/>
<path d="M166.5,735V684" stroke="#e41a1c" stroke-width="3" stroke-linecap="round" fill="none"/>
<path d="M166.5,670L170.6,684.5H162.4Z" fill="#e41a1c" stroke="#e41a1c" stroke-width="1.4" stroke-linejoin="round"/>
<g transform="translate(153.9,723.6) rotate(-90)">
<text x="0" y="0" font-size="12.5" >Increasing T</text>
</g>
<text x="43.75" y="921.50" font-size="18.3" fill="#000" text-anchor="middle" >0</text>
<text x="125.00" y="921.50" font-size="18.3" fill="#000" text-anchor="middle" >1</text>
<text x="206.25" y="921.50" font-size="18.3" fill="#000" text-anchor="middle" >2</text>
<text x="125.00" y="942.80" font-size="19" fill="#000" text-anchor="middle" >ε/<tspan font-family="Liberation Serif">µ</tspan></text>
<text x="249.25" y="921.50" font-size="18.3" fill="#000" text-anchor="middle" >0</text>
<text x="330.62" y="921.50" font-size="18.3" fill="#000" text-anchor="middle" >1</text>
<text x="412.00" y="921.50" font-size="18.3" fill="#000" text-anchor="middle" >2</text>
<text x="330.62" y="942.80" font-size="19" fill="#000" text-anchor="middle" >ε/<tspan font-family="Liberation Serif">µ</tspan></text>
<text x="55.90" y="703.80" font-size="22.5" fill="#000" text-anchor="start" >c)</text>
<text x="56.10" y="812.60" font-size="22.5" fill="#000" text-anchor="start" >e)</text>
<text x="261.90" y="702.60" font-size="22.5" fill="#000" text-anchor="start" >d)</text>
<text x="262.20" y="812.60" font-size="22.5" fill="#000" text-anchor="start" >f)</text>
<g transform="translate(34.7,0) rotate(-90)">
<text transform="translate(-724.27,0.00) scale(1.028,1)" font-size="18.2" fill="#000">f(k)</text>
<text transform="translate(-854.32,0.00) scale(1.021,1)" font-size="18.2" fill="#000">s(k)</text>
</g>
<g transform="translate(237.3,0) rotate(-90)">
<text transform="translate(-734.52,0.00) scale(0.901,1)" font-size="20.6" fill="#000">−∂f/∂ε</text>
</g>
<g transform="translate(236.8,0) rotate(-90)">
<text transform="translate(-885.11,0.00) scale(0.894,1)" font-size="20.6" fill="#000">−∂f/∂ε(ε-µ)/T</text>
</g>
</svg></body></html>
